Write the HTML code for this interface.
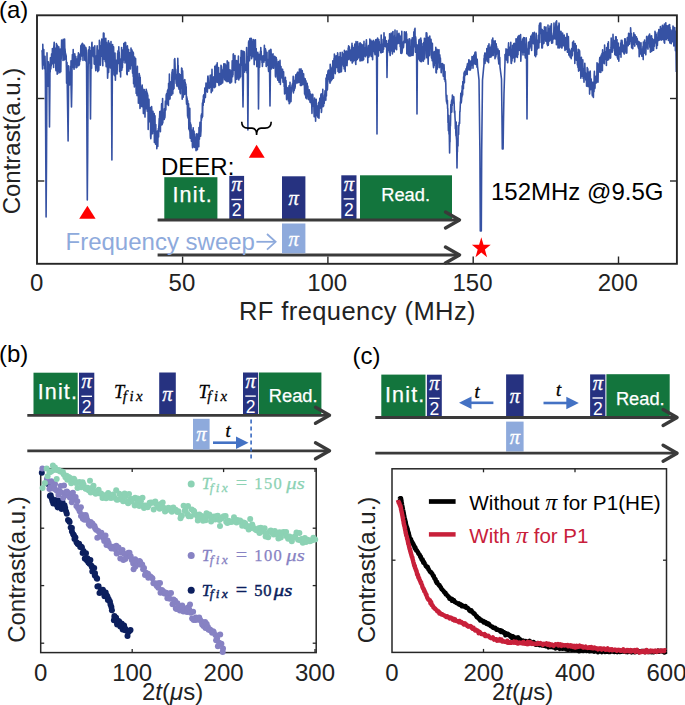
<!DOCTYPE html>
<html><head><meta charset="utf-8"><style>
html,body{margin:0;padding:0;background:#fff;overflow:hidden;width:685px;height:705px;}
svg{display:block;}
</style></head><body>
<svg width="685" height="705" viewBox="0 0 685 705">
<text x="-1" y="17.5" font-family='"Liberation Sans", sans-serif' font-size="24" fill="#000" text-anchor="start" >(a)</text>
<path d="M42.00,50.1 L42.20,52.4 L42.40,64.1 L42.60,69.0 L42.80,44.4 L43.00,56.9 L43.20,54.9 L43.40,53.8 L43.60,52.8 L43.80,49.6 L44.00,65.0 L44.20,57.4 L44.40,58.0 L44.60,68.7 L44.80,66.1 L45.00,56.3 L45.20,63.1 L45.40,80.0 L45.80,160.0 L46.10,217.0 L46.50,160.0 L46.90,85.0 L47.00,52.9 L47.20,73.2 L47.40,82.2 L47.60,64.9 L47.80,64.7 L48.00,86.3 L48.20,67.3 L48.40,61.9 L48.60,63.7 L48.80,72.5 L49.00,81.8 L49.10,85.0 L49.50,127.0 L49.90,85.0 L50.00,64.7 L50.20,72.3 L50.40,57.7 L50.60,66.2 L50.80,69.0 L51.00,65.5 L51.20,66.1 L51.40,58.2 L51.60,53.8 L51.80,55.6 L52.00,63.9 L52.20,61.1 L52.40,48.6 L52.60,62.5 L52.80,50.2 L53.00,63.0 L53.20,56.0 L53.40,50.6 L53.60,67.4 L53.80,47.0 L54.00,45.1 L54.20,42.2 L54.40,57.2 L54.60,53.1 L54.80,62.9 L55.00,52.5 L55.20,48.3 L55.40,53.5 L55.60,50.4 L55.80,68.8 L56.00,70.7 L56.20,63.1 L56.40,43.5 L56.60,55.3 L56.80,65.9 L57.00,53.5 L57.20,74.2 L57.40,45.3 L57.60,66.1 L57.80,53.2 L58.00,73.3 L58.20,61.5 L58.40,71.3 L58.60,54.4 L58.80,46.7 L59.00,51.1 L59.20,54.1 L59.40,49.1 L59.60,70.3 L59.80,72.8 L60.00,60.2 L60.20,49.1 L60.40,59.0 L60.60,52.4 L60.80,71.8 L61.00,59.8 L61.20,59.2 L61.40,51.9 L61.60,40.1 L61.80,47.3 L62.00,43.3 L62.20,53.4 L62.40,50.3 L62.60,42.9 L62.80,43.6 L63.00,60.4 L63.20,39.4 L63.40,40.4 L63.60,50.9 L63.80,42.6 L64.00,45.5 L64.20,50.3 L64.40,59.9 L64.60,39.0 L64.80,48.6 L65.00,48.8 L65.20,51.7 L65.40,53.4 L65.60,55.2 L65.80,54.0 L66.00,59.4 L66.20,55.8 L66.40,67.2 L66.60,83.2 L66.80,67.7 L67.00,62.4 L67.20,71.8 L67.30,88.0 L67.80,120.0 L68.10,141.0 L68.50,95.0 L68.60,65.9 L68.80,79.6 L69.00,72.1 L69.20,76.4 L69.40,81.0 L69.60,84.9 L69.80,73.8 L70.00,74.5 L70.20,79.4 L70.40,71.9 L70.60,66.4 L70.80,84.0 L71.00,60.9 L71.10,88.0 L71.50,107.0 L71.90,85.0 L72.00,69.3 L72.20,61.7 L72.40,54.6 L72.60,60.7 L72.80,67.2 L73.00,59.1 L73.20,49.5 L73.40,63.6 L73.60,61.0 L73.80,64.6 L74.00,69.3 L74.20,67.7 L74.40,62.8 L74.60,62.4 L74.80,53.8 L75.00,60.5 L75.20,62.6 L75.40,59.3 L75.60,61.5 L75.80,56.5 L76.00,67.6 L76.20,67.8 L76.40,58.8 L76.60,62.8 L76.80,60.5 L77.00,67.2 L77.20,63.2 L77.40,62.3 L77.60,60.1 L77.80,61.3 L78.00,55.8 L78.20,63.7 L78.40,52.8 L78.60,65.7 L78.80,62.4 L79.00,65.4 L79.20,60.4 L79.40,64.4 L79.60,54.2 L79.80,61.6 L80.00,55.8 L80.20,57.8 L80.40,55.0 L80.60,59.7 L80.80,45.8 L81.00,55.2 L81.20,45.2 L81.40,56.0 L81.60,44.6 L81.80,44.3 L82.00,44.0 L82.20,55.9 L82.40,43.4 L82.60,48.5 L82.80,43.9 L83.00,60.4 L83.20,49.2 L83.40,49.5 L83.60,45.1 L83.80,45.2 L84.00,50.1 L84.20,46.5 L84.40,45.3 L84.60,50.5 L84.80,60.2 L85.00,53.7 L85.20,53.0 L85.40,48.3 L85.60,47.4 L85.80,61.1 L86.00,47.8 L86.20,50.0 L86.40,52.7 L86.60,70.0 L87.00,150.0 L87.30,200.0 L87.70,150.0 L88.10,72.0 L88.20,63.5 L88.40,50.0 L88.60,58.8 L88.80,60.0 L89.00,63.0 L89.20,51.5 L89.40,46.9 L89.60,61.0 L89.80,50.6 L90.00,61.0 L90.10,72.0 L90.50,119.0 L90.90,72.0 L91.00,66.3 L91.20,58.6 L91.40,47.3 L91.60,68.2 L91.80,43.4 L92.00,42.2 L92.20,55.0 L92.40,53.9 L92.60,54.9 L92.80,51.6 L93.00,50.2 L93.20,49.3 L93.40,56.7 L93.60,47.4 L93.80,51.4 L94.00,51.5 L94.20,64.1 L94.40,58.2 L94.60,54.9 L94.80,45.8 L95.00,60.3 L95.20,64.1 L95.40,59.8 L95.60,68.0 L95.80,70.6 L96.00,58.1 L96.20,55.8 L96.40,67.8 L96.60,64.9 L96.80,61.2 L97.00,49.1 L97.20,45.9 L97.40,64.7 L97.60,70.7 L97.80,71.6 L98.00,50.0 L98.20,61.3 L98.40,57.2 L98.60,70.5 L98.80,69.9 L99.00,56.7 L99.20,56.7 L99.40,40.2 L99.60,50.1 L99.80,41.7 L100.00,62.5 L100.20,58.2 L100.40,65.2 L100.60,57.8 L100.80,45.9 L101.00,53.9 L101.20,46.5 L101.40,56.1 L101.60,50.6 L101.80,39.1 L102.00,48.2 L102.20,48.9 L102.40,46.4 L102.60,58.2 L102.80,65.8 L103.00,44.7 L103.20,45.9 L103.40,33.1 L103.60,50.9 L103.80,49.6 L104.00,33.3 L104.20,58.4 L104.40,59.3 L104.60,44.5 L104.80,49.6 L105.00,54.2 L105.20,61.6 L105.40,38.6 L105.60,52.7 L105.80,38.3 L106.00,62.4 L106.20,66.7 L106.40,56.0 L106.60,42.2 L106.80,56.7 L107.00,66.0 L107.20,49.5 L107.40,66.9 L107.60,78.3 L107.80,73.8 L108.00,44.0 L108.20,49.7 L108.40,40.7 L108.60,72.4 L108.80,66.0 L109.00,48.0 L109.20,43.0 L109.40,60.6 L109.60,61.8 L109.80,64.7 L110.00,57.4 L110.20,47.2 L110.40,67.9 L110.60,65.2 L110.80,45.2 L111.00,41.6 L111.20,64.2 L111.40,63.3 L111.50,82.0 L111.90,160.0 L112.30,82.0 L112.40,49.1 L112.60,44.6 L112.80,50.4 L113.00,52.7 L113.20,59.4 L113.40,53.7 L113.60,46.9 L113.80,57.4 L114.00,74.6 L114.20,62.5 L114.40,75.6 L114.60,61.7 L114.80,63.4 L115.00,53.1 L115.20,62.1 L115.40,80.3 L115.60,66.6 L115.80,69.6 L116.00,68.6 L116.20,61.5 L116.40,60.4 L116.60,63.3 L116.80,69.7 L117.00,74.0 L117.20,69.0 L117.40,62.7 L117.60,53.3 L117.80,57.0 L118.00,50.9 L118.20,63.5 L118.40,53.9 L118.60,61.6 L118.80,46.8 L119.00,57.2 L119.20,52.1 L119.40,56.5 L119.60,71.6 L119.80,59.4 L120.00,66.2 L120.20,60.8 L120.40,59.4 L120.60,76.9 L120.80,63.9 L121.00,58.7 L121.20,59.6 L121.40,66.2 L121.60,47.6 L121.80,70.2 L122.00,63.3 L122.20,49.7 L122.40,67.8 L122.60,59.9 L122.80,59.7 L123.00,62.6 L123.20,54.3 L123.40,57.9 L123.60,59.9 L123.80,43.5 L124.00,56.5 L124.20,55.0 L124.40,43.0 L124.60,45.8 L124.80,44.0 L125.00,63.0 L125.20,42.2 L125.40,50.3 L125.60,42.5 L125.80,46.5 L126.00,60.7 L126.20,48.0 L126.40,56.6 L126.60,60.0 L126.80,74.1 L127.00,65.3 L127.20,74.7 L127.40,45.9 L127.60,49.3 L127.80,70.9 L128.00,57.9 L128.20,58.0 L128.40,63.7 L128.60,49.5 L128.80,71.2 L129.00,62.2 L129.20,67.4 L129.40,52.9 L129.60,66.0 L129.80,52.9 L130.00,67.2 L130.20,66.1 L130.40,69.0 L130.60,57.2 L130.80,63.6 L131.00,48.0 L131.20,65.5 L131.40,55.8 L131.60,58.8 L131.80,53.6 L132.00,50.0 L132.20,52.9 L132.40,67.2 L132.60,73.1 L132.80,53.7 L133.00,52.0 L133.20,76.6 L133.40,52.9 L133.60,83.8 L133.80,65.9 L134.00,58.3 L134.20,78.0 L134.40,87.0 L134.60,57.0 L134.80,85.3 L135.00,66.2 L135.20,83.3 L135.40,66.6 L135.60,58.5 L135.80,72.8 L136.00,84.1 L136.20,93.4 L136.40,92.5 L136.60,80.3 L136.80,73.0 L137.00,95.6 L137.20,73.8 L137.40,66.4 L137.60,88.0 L137.80,77.2 L138.00,79.1 L138.20,80.9 L138.40,103.2 L138.60,88.4 L138.80,78.1 L139.00,87.5 L139.20,73.6 L139.40,77.4 L139.60,75.3 L139.80,99.3 L140.00,108.4 L140.20,77.3 L140.40,87.4 L140.60,98.4 L140.80,98.2 L141.00,106.7 L141.20,92.7 L141.40,86.9 L141.60,93.6 L141.80,101.5 L142.00,88.0 L142.20,85.0 L142.40,106.6 L142.60,88.1 L142.80,107.1 L143.00,100.8 L143.20,106.3 L143.40,113.6 L143.60,100.5 L143.80,101.2 L144.00,98.8 L144.20,89.6 L144.40,100.9 L144.60,110.3 L144.80,108.7 L145.00,117.1 L145.20,99.9 L145.40,91.6 L145.60,105.1 L145.80,96.5 L146.00,96.5 L146.20,89.3 L146.40,108.7 L146.60,90.8 L146.80,105.2 L147.00,92.2 L147.20,111.3 L147.40,93.6 L147.60,110.8 L147.80,95.1 L148.00,102.4 L148.20,129.4 L148.40,103.1 L148.60,110.1 L148.80,106.0 L149.00,99.4 L149.20,116.0 L149.40,108.6 L149.60,109.0 L149.80,121.9 L150.00,111.1 L150.20,109.9 L150.40,107.6 L150.60,136.2 L150.80,138.6 L151.00,136.1 L151.20,131.3 L151.40,133.7 L151.60,106.5 L151.80,109.7 L152.00,131.1 L152.20,118.7 L152.40,127.2 L152.60,133.7 L152.80,118.8 L153.00,111.4 L153.20,131.1 L153.40,127.8 L153.60,116.1 L153.80,129.4 L154.00,129.5 L154.20,113.6 L154.40,142.5 L154.60,137.3 L154.80,133.7 L155.00,115.7 L155.20,133.2 L155.40,126.6 L155.60,144.3 L155.80,124.6 L156.00,139.7 L156.20,137.7 L156.40,140.4 L156.60,134.0 L156.80,148.7 L157.00,137.6 L157.20,136.9 L157.40,131.1 L157.60,136.2 L157.80,146.4 L158.00,135.9 L158.20,135.0 L158.40,128.6 L158.60,136.9 L158.80,126.8 L159.00,123.6 L159.20,118.5 L159.40,126.7 L159.60,116.8 L159.80,111.6 L160.00,123.1 L160.20,111.4 L160.40,131.8 L160.60,117.7 L160.80,122.1 L161.00,120.1 L161.20,122.2 L161.40,112.0 L161.60,103.9 L161.80,124.9 L162.00,115.7 L162.20,124.5 L162.40,111.8 L162.60,98.6 L162.80,123.0 L163.00,115.2 L163.20,114.0 L163.40,113.3 L163.60,113.0 L163.80,115.1 L164.00,115.5 L164.20,119.5 L164.40,108.8 L164.60,111.1 L164.80,118.0 L165.00,115.7 L165.20,107.6 L165.40,101.1 L165.60,108.5 L165.80,109.9 L166.00,103.9 L166.20,94.7 L166.40,97.3 L166.60,93.5 L166.80,101.2 L167.00,103.9 L167.20,104.0 L167.40,91.9 L167.60,90.3 L167.80,99.1 L168.00,89.4 L168.20,90.2 L168.40,105.4 L168.60,83.3 L168.80,99.9 L169.00,85.8 L169.20,89.8 L169.40,74.1 L169.60,86.5 L169.80,94.1 L170.00,99.0 L170.20,93.2 L170.40,91.2 L170.60,86.6 L170.80,81.9 L171.00,86.3 L171.20,93.9 L171.40,82.3 L171.60,95.2 L171.80,78.1 L172.00,72.1 L172.20,77.6 L172.40,70.0 L172.60,69.7 L172.80,93.7 L173.00,80.8 L173.20,82.9 L173.40,89.3 L173.60,88.5 L173.80,77.9 L174.00,88.6 L174.20,76.3 L174.40,59.5 L174.60,75.9 L174.80,58.5 L175.00,63.3 L175.20,69.9 L175.40,79.1 L175.60,69.3 L175.80,71.3 L176.00,80.7 L176.20,83.4 L176.40,75.9 L176.60,82.4 L176.80,84.8 L177.00,86.2 L177.20,74.3 L177.40,85.7 L177.60,82.7 L177.80,58.4 L178.00,70.6 L178.20,65.5 L178.40,80.8 L178.60,88.0 L178.80,79.4 L179.00,89.3 L179.20,73.7 L179.40,82.6 L179.60,81.5 L179.80,81.9 L180.00,92.5 L180.20,81.4 L180.40,93.8 L180.60,74.9 L180.80,81.2 L181.00,74.9 L181.20,88.1 L181.40,84.6 L181.60,68.1 L181.80,84.3 L182.00,68.6 L182.20,99.2 L182.40,77.4 L182.60,70.8 L182.80,75.5 L183.00,81.7 L183.20,97.2 L183.40,94.4 L183.60,81.3 L183.80,88.8 L184.00,80.5 L184.20,81.5 L184.40,94.4 L184.60,79.9 L184.80,79.6 L185.00,91.8 L185.20,82.4 L185.40,86.9 L185.60,93.9 L185.80,84.1 L186.00,92.2 L186.20,86.8 L186.40,101.2 L186.60,104.1 L186.80,96.8 L187.00,100.2 L187.20,98.8 L187.40,107.5 L187.60,116.3 L187.80,100.7 L188.00,117.9 L188.20,104.4 L188.40,108.8 L188.60,103.8 L188.80,129.1 L189.00,121.3 L189.20,126.1 L189.40,118.6 L189.60,131.1 L189.80,108.3 L190.00,133.3 L190.20,138.2 L190.40,122.7 L190.60,127.8 L190.80,134.1 L191.00,124.8 L191.20,133.5 L191.40,141.3 L191.60,137.2 L191.80,131.7 L192.00,137.8 L192.20,130.2 L192.40,145.9 L192.60,147.7 L192.80,142.2 L193.00,137.4 L193.20,127.8 L193.40,145.6 L193.60,146.3 L193.80,145.1 L194.00,131.0 L194.20,134.9 L194.40,147.5 L194.60,134.1 L194.80,139.4 L195.00,142.0 L195.20,137.0 L195.40,141.8 L195.60,141.7 L195.80,139.7 L196.00,150.6 L196.20,145.6 L196.40,139.8 L196.60,133.9 L196.80,134.3 L197.00,148.0 L197.20,134.3 L197.40,149.7 L197.60,140.5 L197.80,140.1 L198.00,142.8 L198.20,141.2 L198.40,133.3 L198.60,134.6 L198.80,146.7 L199.00,127.6 L199.20,131.9 L199.40,139.3 L199.60,131.1 L199.80,126.9 L200.00,122.3 L200.20,132.2 L200.40,134.3 L200.60,136.1 L200.80,133.3 L201.00,130.8 L201.20,115.4 L201.40,120.5 L201.60,113.7 L201.80,116.0 L202.00,117.8 L202.20,117.5 L202.40,103.1 L202.60,116.4 L202.80,103.8 L203.00,99.7 L203.20,105.4 L203.40,95.7 L203.60,102.1 L203.80,94.9 L204.00,98.5 L204.20,102.3 L204.40,96.8 L204.60,98.3 L204.80,88.0 L205.00,96.3 L205.20,93.6 L205.40,97.4 L205.60,91.1 L205.80,88.2 L206.00,83.0 L206.20,91.3 L206.40,83.7 L206.60,88.0 L206.80,87.9 L207.00,90.5 L207.20,90.0 L207.40,92.1 L207.60,82.5 L207.80,76.8 L208.00,76.0 L208.20,78.2 L208.40,85.4 L208.60,85.8 L208.80,84.9 L209.00,87.7 L209.20,88.5 L209.40,85.8 L209.60,86.1 L209.80,87.1 L210.00,80.2 L210.20,75.4 L210.40,87.2 L210.60,85.8 L210.80,81.8 L211.00,80.3 L211.20,92.7 L211.40,74.7 L211.60,78.6 L211.80,81.1 L212.00,69.4 L212.20,80.6 L212.40,90.9 L212.60,86.7 L212.80,82.8 L213.00,83.4 L213.20,80.7 L213.40,87.0 L213.60,78.4 L213.80,76.8 L214.00,80.0 L214.20,87.6 L214.40,83.1 L214.60,85.8 L214.80,66.4 L215.00,87.0 L215.20,86.9 L215.40,86.8 L215.60,68.2 L215.80,71.7 L216.00,77.6 L216.20,65.1 L216.40,79.6 L216.60,71.1 L216.80,79.9 L217.00,82.3 L217.20,62.9 L217.40,74.5 L217.60,68.6 L217.80,69.3 L218.00,72.4 L218.20,74.9 L218.40,83.0 L218.60,67.6 L218.80,84.1 L219.00,85.4 L219.20,80.8 L219.40,81.9 L219.60,78.7 L219.80,75.9 L220.00,83.1 L220.20,73.2 L220.40,77.5 L220.60,84.5 L220.80,82.1 L221.00,65.2 L221.20,84.0 L221.40,66.0 L221.60,67.5 L221.80,70.8 L222.00,69.4 L222.20,78.3 L222.40,72.0 L222.60,82.9 L222.80,81.0 L223.00,76.0 L223.20,70.1 L223.40,74.8 L223.60,76.2 L223.80,63.9 L224.00,71.3 L224.20,74.6 L224.40,72.9 L224.60,79.6 L224.80,76.4 L225.00,63.9 L225.20,70.8 L225.40,70.9 L225.60,80.7 L225.80,65.1 L226.00,78.7 L226.20,71.4 L226.40,77.2 L226.60,68.7 L226.80,65.1 L227.00,81.8 L227.20,60.7 L227.40,78.5 L227.60,73.0 L227.80,75.8 L228.00,73.3 L228.20,72.9 L228.40,81.4 L228.60,62.2 L228.80,79.3 L229.00,71.7 L229.20,72.9 L229.40,73.6 L229.60,72.0 L229.80,82.9 L230.00,69.9 L230.20,75.2 L230.40,70.8 L230.60,83.0 L230.80,73.4 L231.00,79.4 L231.20,72.8 L231.40,80.1 L231.60,82.0 L231.80,70.4 L232.00,72.4 L232.20,60.9 L232.40,73.3 L232.60,76.7 L232.80,63.9 L233.00,75.0 L233.20,54.2 L233.40,53.9 L233.60,67.3 L233.80,60.6 L234.00,64.6 L234.20,63.7 L234.40,64.0 L234.60,70.4 L234.80,60.2 L235.00,55.6 L235.20,76.0 L235.40,82.7 L235.60,60.6 L235.80,65.2 L236.00,79.5 L236.20,70.7 L236.40,60.5 L236.60,67.4 L236.80,77.0 L237.00,79.3 L237.20,61.0 L237.40,73.5 L237.60,69.6 L237.80,75.9 L238.00,77.6 L238.20,65.3 L238.40,56.0 L238.60,71.6 L238.80,80.0 L239.00,74.5 L239.20,70.5 L239.40,76.9 L239.60,67.0 L239.80,77.9 L240.00,64.0 L240.20,66.8 L240.40,67.7 L240.60,76.7 L240.80,57.3 L241.00,60.2 L241.20,50.5 L241.40,65.3 L241.60,56.6 L241.80,61.3 L242.00,50.8 L242.20,52.6 L242.40,62.4 L242.60,80.0 L243.00,107.0 L243.40,80.0 L243.40,51.4 L243.60,65.4 L243.80,58.7 L244.00,65.5 L244.20,51.7 L244.40,53.3 L244.60,72.1 L244.80,67.6 L245.00,70.9 L245.20,68.3 L245.40,64.9 L245.60,67.3 L245.80,70.1 L246.00,64.0 L246.20,66.5 L246.40,65.0 L246.60,47.5 L246.80,60.5 L247.00,72.9 L247.20,58.0 L247.40,56.6 L247.50,80.0 L247.90,130.0 L248.30,80.0 L248.40,51.3 L248.60,41.9 L248.80,51.3 L249.00,40.8 L249.20,54.4 L249.40,60.8 L249.60,59.6 L249.80,38.6 L250.00,54.7 L250.20,55.0 L250.40,52.6 L250.60,55.5 L250.80,38.2 L251.00,38.2 L251.20,38.2 L251.40,41.4 L251.60,58.8 L251.80,39.2 L252.00,42.2 L252.20,45.5 L252.40,53.1 L252.60,47.2 L252.80,56.8 L253.00,44.1 L253.20,42.4 L253.40,46.9 L253.60,39.5 L253.80,43.8 L254.00,53.3 L254.20,64.6 L254.40,45.1 L254.60,48.5 L254.80,60.3 L255.00,42.8 L255.20,40.6 L255.40,39.7 L255.60,51.2 L255.80,52.5 L256.00,48.7 L256.20,48.5 L256.40,59.9 L256.60,58.4 L256.80,66.6 L257.00,54.4 L257.20,57.0 L257.40,59.8 L257.60,54.3 L257.80,52.2 L258.00,56.5 L258.20,68.0 L258.50,109.0 L258.90,68.0 L259.00,54.2 L259.20,58.8 L259.40,66.3 L259.60,67.3 L259.80,64.0 L260.00,56.4 L260.20,59.3 L260.40,51.4 L260.60,58.7 L260.80,47.5 L261.00,53.7 L261.20,51.2 L261.40,60.1 L261.60,58.0 L261.80,55.8 L262.00,62.8 L262.20,57.6 L262.40,66.5 L262.60,62.7 L262.80,58.0 L263.00,56.0 L263.20,60.1 L263.40,55.6 L263.60,59.4 L263.80,61.3 L264.00,62.1 L264.20,51.4 L264.40,45.4 L264.60,51.8 L264.80,51.5 L265.00,60.1 L265.20,51.3 L265.40,48.7 L265.60,56.3 L265.80,50.0 L266.00,59.8 L266.20,66.5 L266.40,65.8 L266.60,62.5 L266.80,60.1 L267.00,52.3 L267.20,65.2 L267.40,62.9 L267.60,65.2 L267.80,59.3 L268.00,62.1 L268.20,59.6 L268.40,68.9 L268.60,71.4 L268.80,65.9 L269.00,50.7 L269.20,55.5 L269.40,50.2 L269.60,72.0 L270.00,106.0 L270.40,72.0 L270.40,58.9 L270.60,52.0 L270.80,49.2 L271.00,49.8 L271.20,53.8 L271.40,69.0 L271.60,66.7 L271.80,66.9 L272.00,67.9 L272.20,58.7 L272.40,58.7 L272.60,54.6 L272.80,59.0 L273.00,53.9 L273.20,59.2 L273.40,66.5 L273.60,68.3 L273.80,63.0 L274.00,63.3 L274.20,62.0 L274.40,64.6 L274.60,56.4 L274.80,63.6 L275.00,62.5 L275.20,56.8 L275.40,75.4 L275.60,77.0 L275.80,58.8 L276.00,67.0 L276.20,57.5 L276.40,62.5 L276.60,59.3 L276.80,64.5 L277.00,69.7 L277.20,72.6 L277.40,78.5 L277.60,77.2 L277.80,80.2 L278.00,76.9 L278.20,70.5 L278.40,61.6 L278.60,68.1 L278.80,66.7 L279.00,82.2 L279.20,77.6 L279.40,65.0 L279.60,75.8 L279.80,73.8 L280.00,60.4 L280.20,69.7 L280.40,84.5 L280.60,74.6 L280.80,69.7 L281.00,66.5 L281.20,77.6 L281.40,69.6 L281.60,75.1 L281.80,69.0 L282.00,77.2 L282.20,74.0 L282.40,78.4 L282.60,69.4 L282.80,77.2 L283.00,82.2 L283.20,81.5 L283.40,72.8 L283.60,71.9 L283.80,81.6 L284.00,79.7 L284.20,86.8 L284.40,86.4 L284.60,93.9 L284.80,86.2 L285.00,89.9 L285.20,83.5 L285.40,77.3 L285.60,93.2 L285.80,89.8 L286.00,80.5 L286.20,86.6 L286.40,92.4 L286.60,99.6 L286.80,98.8 L287.00,97.5 L287.20,87.5 L287.40,89.0 L287.60,91.8 L287.80,88.6 L288.00,92.1 L288.20,88.1 L288.40,100.9 L288.60,99.9 L288.80,89.2 L289.00,85.9 L289.20,103.7 L289.40,86.2 L289.60,87.8 L289.80,103.0 L290.00,82.3 L290.20,90.6 L290.40,87.4 L290.60,92.5 L290.80,91.2 L291.00,101.6 L291.20,92.5 L291.40,87.6 L291.60,91.5 L291.80,88.2 L292.00,85.2 L292.20,86.7 L292.40,83.7 L292.60,84.9 L292.80,87.5 L293.00,82.1 L293.20,76.4 L293.40,92.9 L293.60,88.7 L293.80,84.9 L294.00,83.6 L294.20,90.6 L294.40,80.5 L294.60,83.3 L294.80,88.7 L295.00,87.5 L295.20,86.7 L295.40,76.8 L295.60,81.4 L295.80,74.8 L296.00,83.6 L296.20,76.9 L296.40,79.1 L296.60,78.8 L296.80,77.5 L297.00,73.2 L297.20,82.7 L297.40,74.2 L297.60,72.4 L297.80,83.0 L298.00,72.3 L298.20,76.9 L298.40,82.3 L298.60,78.6 L298.80,75.1 L299.00,77.4 L299.20,82.2 L299.40,69.1 L299.60,79.6 L299.80,72.9 L300.00,70.1 L300.20,77.0 L300.40,85.4 L300.60,80.3 L300.80,83.0 L301.00,68.8 L301.20,75.9 L301.40,85.4 L301.60,82.0 L301.80,72.1 L302.00,79.2 L302.20,70.5 L302.40,72.6 L302.60,83.3 L302.80,84.7 L303.00,76.5 L303.20,77.9 L303.40,82.3 L303.60,73.7 L303.80,81.9 L304.00,81.6 L304.20,78.1 L304.40,85.7 L304.60,94.1 L304.80,85.6 L305.00,84.4 L305.20,78.7 L305.40,95.7 L305.60,88.5 L305.80,98.0 L306.00,80.7 L306.20,93.4 L306.40,83.2 L306.60,85.3 L306.80,88.6 L307.00,98.9 L307.20,83.4 L307.40,94.6 L307.60,93.9 L307.80,86.0 L308.00,90.5 L308.20,92.5 L308.40,96.7 L308.60,91.3 L308.80,99.7 L309.00,90.6 L309.20,89.7 L309.40,90.6 L309.60,99.3 L309.80,91.6 L310.00,102.2 L310.20,96.8 L310.40,93.7 L310.60,101.8 L310.80,94.0 L311.00,94.7 L311.20,96.6 L311.40,104.0 L311.60,96.4 L311.80,107.6 L312.00,113.4 L312.20,99.2 L312.40,106.6 L312.60,94.3 L312.80,94.6 L313.00,105.3 L313.20,102.9 L313.40,104.4 L313.60,100.8 L313.80,102.3 L314.00,112.0 L314.20,116.7 L314.40,105.3 L314.60,98.1 L314.80,116.8 L315.00,112.6 L315.20,113.9 L315.40,111.8 L315.60,121.3 L315.80,109.3 L316.00,116.2 L316.20,99.4 L316.40,110.4 L316.60,103.3 L316.80,114.3 L317.00,115.7 L317.20,110.7 L317.40,107.7 L317.60,106.1 L317.80,117.2 L318.00,111.0 L318.20,116.4 L318.40,117.6 L318.60,111.8 L318.80,102.3 L319.00,118.2 L319.20,108.5 L319.40,109.1 L319.60,102.6 L319.80,98.3 L320.00,102.4 L320.20,102.4 L320.40,101.7 L320.60,108.1 L320.80,94.8 L321.00,96.8 L321.20,93.7 L321.40,112.4 L321.60,110.6 L321.80,101.1 L322.00,96.6 L322.20,105.8 L322.40,95.8 L322.60,100.1 L322.80,89.3 L323.00,106.7 L323.20,101.2 L323.40,101.6 L323.60,106.1 L323.80,97.5 L324.00,98.3 L324.20,103.4 L324.40,100.0 L324.60,95.1 L324.80,95.8 L325.00,90.9 L325.20,98.7 L325.40,99.2 L325.60,91.2 L325.80,100.3 L326.00,78.0 L326.20,85.3 L326.40,96.1 L326.60,80.5 L326.80,74.8 L327.00,90.4 L327.20,84.8 L327.40,89.7 L327.60,85.0 L327.80,73.5 L328.00,70.8 L328.20,79.4 L328.40,74.3 L328.60,70.0 L328.80,76.8 L329.00,72.9 L329.20,77.8 L329.40,74.5 L329.60,82.1 L329.80,74.3 L330.00,83.3 L330.20,64.2 L330.40,70.3 L330.60,81.6 L330.80,76.7 L331.00,68.1 L331.20,78.3 L331.40,78.0 L331.60,80.1 L331.80,67.7 L332.00,72.4 L332.20,79.2 L332.40,66.1 L332.60,70.0 L332.80,60.8 L333.00,66.9 L333.20,73.9 L333.40,78.2 L333.60,69.6 L333.80,65.1 L334.00,58.4 L334.20,68.6 L334.40,54.1 L334.60,56.4 L334.80,64.4 L335.00,56.1 L335.20,73.6 L335.40,72.0 L335.60,63.5 L335.80,61.3 L336.00,56.6 L336.20,55.7 L336.40,64.0 L336.60,67.4 L336.80,64.8 L337.00,64.3 L337.20,59.2 L337.40,65.2 L337.60,52.9 L337.80,53.8 L338.00,71.4 L338.20,69.8 L338.40,58.8 L338.60,60.5 L338.80,70.7 L339.00,72.6 L339.20,56.7 L339.40,63.0 L339.60,68.0 L339.80,72.1 L340.00,62.5 L340.20,52.5 L340.40,67.6 L340.60,72.0 L340.80,71.6 L341.00,67.1 L341.20,64.0 L341.40,71.6 L341.60,68.1 L341.80,57.3 L342.00,65.2 L342.20,52.3 L342.40,58.3 L342.60,54.9 L342.80,53.9 L343.00,57.3 L343.20,54.8 L343.40,63.9 L343.60,66.4 L343.80,58.1 L344.00,53.5 L344.20,68.9 L344.40,50.4 L344.60,50.8 L344.80,54.1 L345.00,67.5 L345.20,71.5 L345.40,51.6 L345.60,53.2 L345.80,58.5 L346.00,65.3 L346.20,56.3 L346.40,56.2 L346.60,51.1 L346.80,52.7 L347.00,65.8 L347.20,62.1 L347.40,52.0 L347.60,52.1 L347.80,54.7 L348.00,59.4 L348.20,48.0 L348.40,53.8 L348.60,45.8 L348.80,46.8 L349.00,59.6 L349.20,57.8 L349.40,46.8 L349.60,49.2 L349.80,57.8 L350.00,51.8 L350.20,49.7 L350.40,56.3 L350.60,54.7 L350.80,60.6 L351.00,60.5 L351.20,52.4 L351.40,55.7 L351.60,55.9 L351.80,48.1 L352.00,43.2 L352.20,63.1 L352.40,45.5 L352.60,62.2 L352.80,56.9 L353.00,61.7 L353.20,58.2 L353.40,57.8 L353.60,60.3 L353.80,47.5 L354.00,49.2 L354.20,48.5 L354.40,60.4 L354.60,58.5 L354.80,44.0 L355.00,48.1 L355.20,48.3 L355.40,54.4 L355.60,63.2 L355.80,64.5 L356.00,41.5 L356.20,60.7 L356.40,56.7 L356.60,50.4 L356.80,53.5 L357.00,50.5 L357.20,54.2 L357.40,59.5 L357.60,41.8 L357.80,58.4 L358.00,48.2 L358.20,57.9 L358.40,46.3 L358.60,55.7 L358.80,50.6 L359.00,53.1 L359.20,57.1 L359.40,43.5 L359.60,51.6 L359.80,53.8 L360.00,60.9 L360.20,42.9 L360.40,53.6 L360.60,56.6 L360.80,44.0 L361.00,49.1 L361.20,60.8 L361.40,44.1 L361.60,59.7 L361.80,57.0 L362.00,56.1 L362.20,52.2 L362.40,50.4 L362.60,50.2 L362.80,60.6 L363.00,44.7 L363.20,53.7 L363.40,50.2 L363.60,59.6 L363.80,47.6 L364.00,41.4 L364.20,56.3 L364.40,53.8 L364.60,54.6 L364.80,53.1 L365.00,47.8 L365.20,50.5 L365.40,53.7 L365.60,56.7 L365.80,49.9 L366.00,43.2 L366.20,43.4 L366.40,39.9 L366.60,45.0 L366.80,52.9 L367.00,48.1 L367.20,55.6 L367.40,49.3 L367.60,49.0 L367.80,62.8 L368.00,50.8 L368.20,51.7 L368.40,45.7 L368.60,47.5 L368.80,57.1 L369.00,56.7 L369.20,51.0 L369.40,44.8 L369.60,55.2 L369.80,39.1 L370.00,50.2 L370.20,47.7 L370.40,43.6 L370.60,50.9 L370.80,42.7 L371.00,40.3 L371.20,56.4 L371.40,49.6 L371.60,53.1 L371.80,53.9 L372.00,50.9 L372.20,50.1 L372.40,41.5 L372.60,59.7 L372.80,46.8 L373.00,50.3 L373.20,41.1 L373.40,40.4 L373.60,41.3 L373.80,48.4 L374.00,51.3 L374.20,44.8 L374.40,42.8 L374.60,53.3 L374.80,41.8 L375.00,54.7 L375.20,42.4 L375.40,46.7 L375.60,39.9 L375.80,50.9 L376.00,41.4 L376.20,39.6 L376.40,51.1 L376.60,60.0 L377.00,134.0 L377.40,60.0 L377.40,45.2 L377.60,38.0 L377.80,41.1 L378.00,46.3 L378.20,40.0 L378.40,56.1 L378.60,41.0 L378.80,39.5 L379.00,49.7 L379.20,41.5 L379.40,45.6 L379.60,44.4 L379.80,48.1 L380.00,50.5 L380.20,50.6 L380.40,46.3 L380.60,50.7 L380.80,52.6 L381.00,52.9 L381.20,35.0 L381.40,43.5 L381.60,43.7 L381.80,46.7 L382.00,48.4 L382.20,52.3 L382.40,48.4 L382.60,44.1 L382.80,44.4 L383.00,52.1 L383.20,39.4 L383.40,41.9 L383.60,49.2 L383.80,41.0 L384.00,32.8 L384.20,41.8 L384.40,37.3 L384.60,44.5 L384.80,46.1 L385.00,41.8 L385.20,37.0 L385.40,46.8 L385.60,43.8 L385.80,41.1 L386.00,42.6 L386.20,41.7 L386.40,40.8 L386.60,40.9 L386.70,52.0 L387.00,77.5 L387.40,52.0 L387.40,52.2 L387.60,43.9 L387.80,45.6 L388.00,45.1 L388.20,46.4 L388.40,44.0 L388.60,50.5 L388.80,40.0 L389.00,50.2 L389.20,42.9 L389.40,52.6 L389.60,33.8 L389.80,39.6 L390.00,54.6 L390.20,55.5 L390.40,42.1 L390.60,48.8 L390.80,39.4 L391.00,46.3 L391.20,33.0 L391.40,44.1 L391.60,42.8 L391.80,49.5 L392.00,51.7 L392.20,33.2 L392.40,53.9 L392.60,40.7 L392.80,31.8 L393.00,31.6 L393.20,51.5 L393.40,42.4 L393.60,39.2 L393.80,45.6 L394.00,36.6 L394.20,51.9 L394.40,41.3 L394.60,45.4 L394.80,40.9 L395.00,30.0 L395.20,45.9 L395.40,38.9 L395.60,39.5 L395.80,49.0 L396.00,38.0 L396.20,45.2 L396.40,37.3 L396.60,49.8 L396.80,38.1 L397.00,30.9 L397.20,42.0 L397.40,40.2 L397.60,34.3 L397.80,43.6 L398.00,38.7 L398.20,34.0 L398.40,38.7 L398.60,34.6 L398.80,41.1 L399.00,33.2 L399.20,40.4 L399.40,43.4 L399.60,35.0 L399.80,39.9 L400.00,38.0 L400.20,46.7 L400.40,39.8 L400.60,46.9 L400.80,53.3 L401.00,49.5 L401.20,36.1 L401.40,47.2 L401.60,53.4 L401.80,31.4 L402.00,52.8 L402.20,51.0 L402.40,48.6 L402.60,44.5 L402.80,42.3 L403.00,44.6 L403.20,46.2 L403.40,47.7 L403.60,45.9 L403.80,41.0 L404.00,41.4 L404.20,43.1 L404.40,31.8 L404.60,35.3 L404.80,36.5 L405.00,39.4 L405.20,37.6 L405.40,37.1 L405.60,32.7 L405.80,42.7 L406.00,39.4 L406.20,31.8 L406.40,38.9 L406.60,33.8 L406.80,53.7 L407.00,39.1 L407.20,39.5 L407.40,43.2 L407.60,52.0 L407.80,43.8 L408.00,54.7 L408.20,47.3 L408.40,53.2 L408.60,55.7 L408.80,42.7 L409.00,39.1 L409.20,55.2 L409.40,55.9 L409.60,38.7 L409.80,53.8 L410.00,52.7 L410.20,46.9 L410.40,55.9 L410.60,50.4 L410.80,47.3 L411.00,51.9 L411.20,55.6 L411.40,39.9 L411.60,50.3 L411.80,55.3 L412.00,44.4 L412.20,37.9 L412.40,43.8 L412.60,38.8 L412.80,46.9 L413.00,55.4 L413.20,53.7 L413.40,37.7 L413.60,43.6 L413.80,31.9 L414.00,39.6 L414.20,43.0 L414.40,46.7 L414.60,29.6 L414.80,29.4 L415.00,28.4 L415.20,46.2 L415.40,52.2 L415.60,36.8 L415.80,38.3 L416.00,42.1 L416.20,43.7 L416.40,44.6 L416.60,56.0 L417.00,114.0 L417.40,56.0 L417.40,50.9 L417.60,45.3 L417.80,58.9 L418.00,59.2 L418.20,44.5 L418.40,48.4 L418.60,49.2 L418.80,41.4 L419.00,39.7 L419.20,42.6 L419.40,53.2 L419.60,60.5 L419.80,56.2 L420.00,45.5 L420.20,38.8 L420.40,61.4 L420.60,46.8 L420.80,38.1 L421.00,55.2 L421.20,40.1 L421.40,56.0 L421.60,61.7 L421.80,46.8 L422.00,57.3 L422.20,46.5 L422.40,60.1 L422.60,56.3 L422.80,57.1 L423.00,43.5 L423.20,57.1 L423.40,61.3 L423.60,58.3 L423.80,42.3 L424.00,53.7 L424.20,53.9 L424.40,38.2 L424.60,58.9 L424.80,48.5 L425.00,43.3 L425.20,38.8 L425.40,45.3 L425.60,48.7 L425.80,43.0 L426.00,45.5 L426.20,32.7 L426.40,54.0 L426.60,57.8 L426.80,33.1 L427.00,36.0 L427.20,37.5 L427.40,49.5 L427.60,37.9 L427.80,48.1 L428.00,58.9 L428.20,64.2 L428.40,51.1 L428.60,40.2 L428.80,37.2 L429.00,53.2 L429.20,40.8 L429.40,55.6 L429.60,55.0 L429.80,36.0 L430.00,41.7 L430.20,44.3 L430.40,40.4 L430.60,46.0 L430.80,43.9 L431.00,39.4 L431.20,42.5 L431.40,56.8 L431.60,58.1 L431.80,45.2 L432.00,51.1 L432.20,60.8 L432.40,43.4 L432.60,57.4 L432.80,59.4 L433.00,56.7 L433.20,63.7 L433.40,66.1 L433.60,67.6 L433.80,52.1 L434.00,54.0 L434.20,65.7 L434.40,51.6 L434.60,62.5 L434.80,62.8 L435.00,57.9 L435.20,61.7 L435.40,54.5 L435.60,58.1 L435.80,47.2 L436.00,72.6 L436.20,72.7 L436.40,72.8 L436.60,64.8 L436.80,68.8 L437.00,49.2 L437.20,69.2 L437.40,67.3 L437.60,54.0 L437.80,62.3 L438.00,57.9 L438.20,50.0 L438.40,57.2 L438.60,62.8 L438.80,52.3 L439.00,49.8 L439.20,67.6 L439.40,66.3 L439.60,67.0 L439.80,54.7 L440.00,57.9 L440.20,65.8 L440.40,58.1 L440.60,64.0 L440.80,63.4 L441.00,67.0 L441.20,72.7 L441.40,69.0 L441.60,63.8 L441.80,67.8 L442.00,68.5 L442.20,67.3 L442.40,68.0 L442.60,63.5 L442.80,67.0 L443.00,67.6 L443.20,75.4 L443.40,76.3 L443.60,71.5 L443.80,65.8 L444.00,64.9 L444.20,68.4 L444.40,79.5 L444.60,76.2 L444.80,74.0 L445.00,71.5 L445.20,81.8 L445.40,79.4 L445.60,81.1 L445.80,83.9 L446.00,94.0 L446.20,97.1 L446.40,100.7 L446.60,102.1 L446.80,95.2 L447.00,104.0 L447.20,101.1 L447.40,100.3 L447.60,108.4 L447.80,109.4 L448.00,122.7 L448.20,122.2 L448.40,130.7 L448.60,126.0 L448.80,115.5 L449.00,134.2 L449.20,125.1 L449.30,135.0 L449.60,153.0 L449.90,135.0 L450.00,142.3 L450.20,124.3 L450.40,126.3 L450.60,119.4 L450.80,104.6 L451.00,112.1 L451.20,107.7 L451.40,102.4 L451.60,100.6 L451.80,112.1 L452.00,99.3 L452.20,105.4 L452.40,95.1 L452.60,102.1 L452.80,99.6 L453.00,99.1 L453.20,96.5 L453.40,102.9 L453.60,99.0 L453.80,96.8 L454.00,100.8 L454.20,103.9 L454.40,112.2 L454.60,113.1 L454.80,111.1 L455.00,117.2 L455.20,120.1 L455.40,128.8 L455.60,121.6 L455.80,132.2 L456.00,136.0 L456.20,122.0 L456.40,137.8 L456.60,140.0 L457.00,168.0 L457.40,140.0 L457.40,152.0 L457.60,140.0 L457.80,139.8 L458.00,146.0 L458.20,125.5 L458.40,131.4 L458.60,134.4 L458.80,125.1 L459.00,125.6 L459.20,122.4 L459.40,122.5 L459.60,123.6 L459.80,111.6 L460.00,111.6 L460.20,107.1 L460.40,102.1 L460.60,101.0 L460.80,93.2 L461.00,99.7 L461.20,102.9 L461.40,101.7 L461.60,99.2 L461.80,90.7 L462.00,97.1 L462.20,85.9 L462.40,88.5 L462.60,94.9 L462.80,81.5 L463.00,87.7 L463.20,84.5 L463.40,88.7 L463.60,76.9 L463.80,82.5 L464.00,72.8 L464.20,82.6 L464.40,82.8 L464.60,71.2 L464.80,75.4 L465.00,75.8 L465.20,71.2 L465.40,71.8 L465.60,74.9 L465.80,73.0 L466.00,68.7 L466.20,72.5 L466.40,68.5 L466.60,73.4 L466.80,67.6 L467.00,66.0 L467.20,74.4 L467.40,63.8 L467.60,64.2 L467.80,69.0 L468.00,63.3 L468.20,66.4 L468.40,69.8 L468.60,69.1 L468.80,59.7 L469.00,59.7 L469.20,63.0 L469.40,70.0 L469.60,66.9 L469.80,61.1 L470.00,68.6 L470.20,68.3 L470.40,69.9 L470.60,63.5 L470.80,65.6 L471.00,68.4 L471.20,63.2 L471.40,60.6 L471.60,65.3 L471.80,63.8 L472.00,56.6 L472.20,60.0 L472.40,64.5 L472.60,56.8 L472.80,61.8 L473.00,68.2 L473.20,61.0 L473.40,58.5 L473.60,60.0 L473.80,55.4 L474.00,55.0 L474.20,56.2 L474.40,63.7 L474.60,61.0 L474.80,53.8 L475.00,52.3 L475.20,57.0 L475.40,64.4 L475.60,64.1 L475.80,52.1 L476.00,54.3 L476.20,57.8 L476.40,59.2 L476.60,60.4 L476.80,62.7 L477.00,67.1 L477.20,59.2 L477.40,63.6 L477.50,66.0 L479.00,80.0 L479.90,150.0 L480.30,231.0 L481.30,231.0 L481.70,150.0 L482.50,80.0 L484.00,64.0 L484.00,58.5 L484.20,61.6 L484.40,55.4 L484.60,56.2 L484.80,53.0 L485.00,63.4 L485.20,60.5 L485.40,57.3 L485.60,55.3 L485.80,54.2 L486.00,53.1 L486.20,58.2 L486.40,52.8 L486.60,60.1 L486.80,48.6 L487.00,50.9 L487.20,61.4 L487.40,55.1 L487.60,59.0 L487.80,54.5 L488.00,45.8 L488.20,58.9 L488.40,50.6 L488.60,62.7 L488.80,46.2 L489.00,43.9 L489.20,56.8 L489.40,57.0 L489.60,55.4 L489.80,47.4 L490.00,57.2 L490.20,52.3 L490.40,48.9 L490.60,47.1 L490.80,47.6 L491.00,57.1 L491.20,46.9 L491.40,44.8 L491.60,54.3 L491.80,56.0 L492.00,40.0 L492.20,45.7 L492.40,39.3 L492.60,49.3 L492.80,38.0 L493.00,54.0 L493.20,55.5 L493.40,49.2 L493.60,40.8 L493.80,48.6 L494.00,44.7 L494.20,51.0 L494.40,47.3 L494.60,48.5 L494.80,47.1 L495.00,58.7 L495.20,40.8 L495.40,56.3 L495.60,53.1 L495.80,56.9 L496.00,54.3 L496.20,43.8 L496.40,54.8 L496.60,46.4 L496.80,48.1 L497.00,52.0 L497.20,52.1 L497.40,51.2 L497.60,53.3 L497.80,53.2 L498.00,49.0 L498.20,59.2 L498.40,58.9 L498.60,61.3 L498.80,63.9 L499.00,51.9 L499.20,50.8 L499.40,62.6 L499.60,57.3 L499.80,57.5 L500.00,67.0 L501.50,79.0 L502.00,120.0 L502.30,149.0 L503.10,149.0 L503.50,120.0 L504.00,93.0 L505.00,62.0 L505.00,54.6 L505.20,60.0 L505.40,54.7 L505.60,58.5 L505.80,57.1 L506.00,48.9 L506.20,55.7 L506.40,58.8 L506.60,51.9 L506.80,60.3 L507.00,59.0 L507.20,49.5 L507.40,56.0 L507.60,62.8 L507.80,62.1 L508.00,51.4 L508.20,55.3 L508.40,46.3 L508.60,42.9 L508.80,55.2 L509.00,54.0 L509.20,54.7 L509.40,51.0 L509.60,51.8 L509.80,47.3 L510.00,52.9 L510.20,55.4 L510.40,50.5 L510.60,57.0 L510.80,42.4 L511.00,60.2 L511.20,63.5 L511.40,63.4 L511.60,54.6 L511.80,49.4 L512.00,61.1 L512.20,53.9 L512.40,57.5 L512.60,45.3 L512.80,58.1 L513.00,57.6 L513.20,56.6 L513.40,46.5 L513.60,56.4 L513.80,43.6 L514.00,44.1 L514.20,52.6 L514.40,43.4 L514.60,61.9 L514.80,60.0 L515.00,48.4 L515.20,46.3 L515.40,44.4 L515.60,52.9 L515.80,57.0 L516.00,38.8 L516.20,48.9 L516.40,48.1 L516.60,49.4 L516.80,41.5 L517.00,49.0 L517.20,38.9 L517.40,57.4 L517.60,41.6 L517.80,37.1 L518.00,54.8 L518.20,36.2 L518.40,38.7 L518.60,42.0 L518.80,44.6 L519.00,35.5 L519.20,50.5 L519.40,42.0 L519.60,40.5 L519.80,43.7 L520.00,50.1 L520.20,47.0 L520.40,42.2 L520.60,34.6 L520.80,61.2 L521.00,56.1 L521.20,50.8 L521.40,52.2 L521.60,46.2 L521.80,41.3 L522.00,46.6 L522.20,46.6 L522.40,45.0 L522.60,39.1 L522.80,49.5 L523.00,54.9 L523.20,46.9 L523.40,50.8 L523.60,37.6 L523.80,40.5 L524.00,50.5 L524.20,39.2 L524.40,37.7 L524.60,52.8 L524.80,45.9 L525.00,56.0 L525.20,50.6 L525.40,57.9 L525.60,51.9 L525.80,44.0 L526.00,58.2 L526.20,37.8 L526.40,42.4 L526.60,66.0 L527.00,119.0 L527.40,66.0 L527.40,52.4 L527.60,53.3 L527.80,49.2 L528.00,48.7 L528.20,48.8 L528.40,45.2 L528.60,42.4 L528.80,47.0 L529.00,54.3 L529.20,45.0 L529.40,41.5 L529.60,48.5 L529.80,42.8 L530.00,45.7 L530.20,38.8 L530.40,40.2 L530.60,46.6 L530.80,36.2 L531.00,36.0 L531.20,45.3 L531.40,40.9 L531.60,50.4 L531.80,44.8 L532.00,38.5 L532.20,34.4 L532.40,35.3 L532.60,42.6 L532.80,32.9 L533.00,38.5 L533.20,39.2 L533.40,43.8 L533.60,38.1 L533.80,41.6 L534.00,36.7 L534.20,42.1 L534.40,32.2 L534.60,45.1 L534.80,55.4 L535.00,45.4 L535.20,48.5 L535.40,40.0 L535.60,56.8 L535.80,50.8 L536.00,45.3 L536.20,33.4 L536.40,41.5 L536.60,54.8 L536.80,45.8 L537.00,47.1 L537.20,49.1 L537.40,43.5 L537.60,40.1 L537.80,44.8 L538.00,40.0 L538.20,42.9 L538.40,35.3 L538.60,35.1 L538.80,48.1 L539.00,35.2 L539.20,25.2 L539.40,42.3 L539.60,23.7 L539.80,42.4 L540.00,23.0 L540.20,24.0 L540.40,29.0 L540.60,23.0 L540.80,23.0 L541.00,33.5 L541.20,32.1 L541.40,34.0 L541.60,29.1 L541.80,48.0 L542.00,33.1 L542.20,29.5 L542.40,48.0 L542.60,41.5 L542.80,34.6 L543.00,44.3 L543.20,40.5 L543.40,30.7 L543.60,38.6 L543.80,31.7 L544.00,43.3 L544.20,37.0 L544.40,26.7 L544.60,27.6 L544.80,39.6 L545.00,30.6 L545.20,32.6 L545.40,37.5 L545.60,33.8 L545.80,41.3 L546.00,27.1 L546.20,37.8 L546.40,38.3 L546.60,38.7 L546.80,35.5 L547.00,43.2 L547.20,44.3 L547.40,32.3 L547.60,45.6 L547.80,45.3 L548.00,25.1 L548.20,45.2 L548.40,44.4 L548.60,28.3 L548.80,41.6 L549.00,36.4 L549.20,37.2 L549.40,35.0 L549.60,40.9 L549.80,36.0 L550.00,26.1 L550.20,37.2 L550.40,39.9 L550.60,31.2 L550.80,33.8 L551.00,34.5 L551.20,32.9 L551.40,23.7 L551.60,42.3 L551.80,43.3 L552.00,39.7 L552.20,42.7 L552.40,43.0 L552.60,43.0 L552.80,35.8 L553.00,39.8 L553.20,37.3 L553.40,34.3 L553.60,32.8 L553.80,32.4 L554.00,23.1 L554.20,29.1 L554.40,38.7 L554.60,34.9 L554.80,33.8 L555.00,35.5 L555.20,39.0 L555.40,35.5 L555.60,33.3 L555.80,24.2 L556.00,21.8 L556.20,23.0 L556.40,44.8 L556.60,20.7 L556.80,34.8 L557.00,42.2 L557.20,27.1 L557.40,42.1 L557.60,33.5 L557.80,39.5 L558.00,47.9 L558.20,34.6 L558.40,25.9 L558.60,36.2 L558.80,29.0 L559.00,23.1 L559.20,24.4 L559.40,48.0 L559.60,33.1 L559.80,47.4 L560.00,45.3 L560.20,37.6 L560.40,37.5 L560.60,44.3 L560.80,31.3 L561.00,31.4 L561.20,34.9 L561.40,40.5 L561.60,48.0 L561.80,44.3 L562.00,48.0 L562.20,41.6 L562.40,38.5 L562.60,33.0 L562.80,39.6 L563.00,44.4 L563.20,37.9 L563.40,45.8 L563.60,36.7 L563.80,45.0 L564.00,38.8 L564.20,35.0 L564.40,38.8 L564.60,39.7 L564.80,47.6 L565.00,50.4 L565.20,39.2 L565.40,37.5 L565.60,42.8 L565.80,40.0 L566.00,37.8 L566.20,45.9 L566.40,49.2 L566.60,48.7 L566.80,39.0 L567.00,33.6 L567.20,36.4 L567.40,52.3 L567.60,41.5 L567.80,46.6 L568.00,46.4 L568.20,45.3 L568.40,36.5 L568.60,44.3 L568.80,54.9 L569.00,50.7 L569.20,51.2 L569.40,55.8 L569.60,49.3 L569.80,54.6 L570.00,52.4 L570.20,57.1 L570.40,54.0 L570.60,53.7 L570.80,51.1 L571.00,55.5 L571.20,58.7 L571.40,55.5 L571.60,50.5 L571.80,48.2 L572.00,48.8 L572.20,55.7 L572.40,55.0 L572.60,42.2 L572.80,50.9 L573.00,50.5 L573.20,43.4 L573.40,50.7 L573.60,41.1 L573.80,45.7 L574.00,47.1 L574.20,45.1 L574.40,51.4 L574.60,50.6 L574.80,63.4 L575.00,52.8 L575.20,43.5 L575.40,46.9 L575.60,50.4 L575.80,48.7 L576.00,45.6 L576.20,45.5 L576.40,60.3 L576.60,53.2 L576.80,52.4 L577.00,59.0 L577.20,54.2 L577.40,65.0 L577.60,59.4 L577.80,64.4 L578.00,67.5 L578.20,49.3 L578.40,66.8 L578.60,71.1 L578.80,55.4 L579.00,49.8 L579.20,64.2 L579.40,57.6 L579.60,50.8 L579.80,55.5 L580.00,69.6 L580.20,70.6 L580.40,69.3 L580.60,58.8 L580.80,78.2 L581.00,58.6 L581.20,65.4 L581.40,57.2 L581.60,76.4 L581.80,70.8 L582.00,75.2 L582.20,69.9 L582.40,70.0 L582.60,72.0 L582.80,59.7 L583.00,71.6 L583.20,78.4 L583.40,68.8 L583.60,72.4 L583.80,73.6 L584.00,82.2 L584.20,74.9 L584.40,71.9 L584.60,69.0 L584.80,63.3 L585.00,68.1 L585.20,74.8 L585.40,72.7 L585.60,74.6 L585.80,80.0 L586.00,80.1 L586.20,78.1 L586.40,80.0 L586.60,86.1 L586.80,75.0 L587.00,79.6 L587.20,67.5 L587.40,86.1 L587.60,70.1 L587.80,68.7 L588.00,81.0 L588.20,86.6 L588.40,78.2 L588.60,71.9 L588.80,84.0 L589.00,77.4 L589.20,76.9 L589.40,76.4 L589.60,94.1 L589.80,83.2 L590.00,80.0 L590.20,71.1 L590.40,78.1 L590.60,78.7 L590.80,89.6 L591.00,79.8 L591.20,79.0 L591.40,89.4 L591.60,81.8 L591.80,84.5 L592.00,87.7 L592.20,94.3 L592.40,96.0 L592.60,93.4 L592.80,88.4 L593.00,82.2 L593.20,92.2 L593.40,97.5 L593.60,84.6 L593.80,82.9 L594.00,91.8 L594.20,75.0 L594.40,71.4 L594.60,82.4 L594.80,88.4 L595.00,87.8 L595.20,79.1 L595.40,83.0 L595.60,80.0 L595.80,76.2 L596.00,76.8 L596.20,82.5 L596.40,82.9 L596.60,77.8 L596.80,79.8 L597.00,62.7 L597.20,68.6 L597.40,72.5 L597.60,75.5 L597.80,63.6 L598.00,82.2 L598.20,73.9 L598.40,68.1 L598.60,70.8 L598.80,67.5 L599.00,64.9 L599.20,72.2 L599.40,67.5 L599.60,59.9 L599.80,57.5 L600.00,64.6 L600.20,58.7 L600.40,64.5 L600.60,56.7 L600.80,72.5 L601.00,67.5 L601.20,55.0 L601.40,60.4 L601.60,66.5 L601.80,60.0 L602.00,53.3 L602.20,65.0 L602.40,70.8 L602.60,49.9 L602.80,62.3 L603.00,58.6 L603.20,56.9 L603.40,54.9 L603.60,54.7 L603.80,63.0 L604.00,58.5 L604.20,52.4 L604.40,63.8 L604.60,45.0 L604.80,56.2 L605.00,51.5 L605.20,59.3 L605.40,54.4 L605.60,59.4 L605.80,51.5 L606.00,57.2 L606.20,53.9 L606.40,65.5 L606.60,47.6 L606.80,60.4 L607.00,54.2 L607.20,56.5 L607.40,49.3 L607.60,60.1 L607.80,43.5 L608.00,44.1 L608.20,55.5 L608.40,41.7 L608.60,59.7 L608.80,49.9 L609.00,54.8 L609.20,53.1 L609.40,53.9 L609.60,50.4 L609.80,49.7 L610.00,51.0 L610.20,58.2 L610.40,58.2 L610.60,57.8 L610.80,50.5 L611.00,47.9 L611.20,38.0 L611.40,51.5 L611.60,51.6 L611.80,44.0 L612.00,49.6 L612.20,52.2 L612.40,45.3 L612.60,51.0 L612.80,45.9 L613.00,34.2 L613.20,40.6 L613.40,42.0 L613.60,48.0 L613.80,40.7 L614.00,40.4 L614.20,40.6 L614.40,46.3 L614.60,48.2 L614.80,54.6 L615.00,53.5 L615.20,49.2 L615.40,49.6 L615.60,36.9 L615.80,48.7 L616.00,55.5 L616.20,36.9 L616.40,45.3 L616.60,47.4 L616.80,55.4 L617.00,39.6 L617.20,50.4 L617.40,57.8 L617.60,47.5 L617.80,59.1 L618.00,49.9 L618.20,43.0 L618.40,56.6 L618.60,55.6 L618.80,61.2 L619.00,53.5 L619.20,47.4 L619.40,48.3 L619.60,54.1 L619.80,51.5 L620.00,50.9 L620.20,49.4 L620.40,53.2 L620.60,43.0 L620.80,48.7 L621.00,57.2 L621.20,40.3 L621.40,51.3 L621.60,51.8 L621.80,45.0 L622.00,40.2 L622.20,42.4 L622.40,51.7 L622.60,44.5 L622.80,45.9 L623.00,48.4 L623.20,45.7 L623.40,47.3 L623.60,45.9 L623.80,53.3 L624.00,45.1 L624.20,54.1 L624.40,47.2 L624.60,44.4 L624.80,38.9 L625.00,51.2 L625.20,38.9 L625.40,48.5 L625.60,41.8 L625.80,45.9 L626.00,53.1 L626.20,45.1 L626.40,50.3 L626.60,45.0 L626.80,53.1 L627.00,43.7 L627.20,38.4 L627.40,37.5 L627.60,37.8 L627.80,41.6 L628.00,40.4 L628.20,45.7 L628.40,41.6 L628.60,33.3 L628.80,39.6 L629.00,36.1 L629.20,37.4 L629.40,40.2 L629.60,44.1 L629.80,34.1 L630.00,38.7 L630.20,33.4 L630.40,40.6 L630.60,27.7 L630.80,30.7 L631.00,41.5 L631.20,35.4 L631.40,33.3 L631.60,47.6 L631.80,47.8 L632.00,42.0 L632.20,48.2 L632.40,48.4 L632.60,37.5 L632.80,48.8 L633.00,38.2 L633.20,40.4 L633.40,36.2 L633.60,41.3 L633.80,32.9 L634.00,38.0 L634.20,44.5 L634.40,44.5 L634.60,40.9 L634.80,46.1 L635.00,34.9 L635.20,35.9 L635.40,38.6 L635.60,40.0 L635.80,38.7 L636.00,42.4 L636.20,39.4 L636.40,36.8 L636.60,37.9 L636.80,44.5 L637.00,44.3 L637.20,38.5 L637.40,40.3 L637.60,41.1 L637.80,45.0 L638.00,46.6 L638.20,47.2 L638.40,42.9 L638.60,48.6 L638.80,41.6 L639.00,42.0 L639.20,56.7 L639.40,42.1 L639.60,46.2 L639.80,45.2 L640.00,54.2 L640.20,45.2 L640.40,49.8 L640.60,49.5 L640.80,44.4 L641.00,42.9 L641.20,53.0 L641.40,51.8 L641.60,54.1 L641.80,56.1 L642.00,52.0 L642.20,56.1 L642.40,49.1 L642.60,50.3 L642.80,49.4 L643.00,46.4 L643.20,59.6 L643.40,42.1 L643.60,52.4 L643.80,53.2 L644.00,51.0 L644.20,45.8 L644.40,49.8 L644.60,40.1 L644.80,50.6 L645.00,50.4 L645.20,53.5 L645.40,47.4 L645.60,52.7 L645.80,54.8 L646.00,49.1 L646.20,42.2 L646.40,48.2 L646.60,36.7 L646.80,36.4 L647.00,38.3 L647.20,39.1 L647.40,38.5 L647.60,44.2 L647.80,47.0 L648.00,49.1 L648.20,39.9 L648.40,43.5 L648.60,35.9 L648.80,42.7 L649.00,38.7 L649.20,40.7 L649.40,34.4 L649.60,34.0 L649.80,46.5 L650.00,48.0 L650.20,35.9 L650.40,52.3 L650.60,45.2 L650.80,42.8 L651.00,47.8 L651.20,41.7 L651.40,51.5 L651.60,35.9 L651.80,39.4 L652.00,45.5 L652.20,42.7 L652.40,50.8 L652.60,38.8 L652.80,41.8 L653.00,46.2 L653.20,46.2 L653.40,47.3 L653.60,50.1 L653.80,44.9 L654.00,39.7 L654.20,42.1 L654.40,46.3 L654.60,40.1 L654.80,41.9 L655.00,31.3 L655.20,39.4 L655.40,37.1 L655.60,38.5 L655.80,32.9 L656.00,43.3 L656.20,34.2 L656.40,43.8 L656.60,48.4 L656.80,37.5 L657.00,41.2 L657.20,37.5 L657.40,45.4 L657.60,39.7 L657.80,40.0 L658.00,32.8 L658.20,40.7 L658.40,31.9 L658.60,38.4 L658.80,29.5 L659.00,35.2 L659.20,40.3 L659.40,30.6 L659.60,34.1 L659.80,39.1 L660.00,35.3 L660.20,39.7 L660.40,26.5 L660.60,37.8 L660.80,39.1 L661.00,28.3 L661.20,30.4 L661.40,40.1 L661.60,30.6 L661.80,32.5 L662.00,37.9 L662.20,28.0 L662.40,25.3 L662.60,28.8 L662.80,36.4 L663.00,39.6 L663.20,34.8 L663.40,26.4 L663.60,35.7 L663.80,33.0 L664.00,27.4 L664.20,42.6 L664.40,24.0 L664.60,43.2 L664.80,29.0 L665.00,28.9 L665.20,28.5 L665.40,24.8 L665.60,33.0 L665.80,22.8 L666.00,35.5 L666.20,39.7 L666.40,28.6 L666.60,37.8 L666.80,38.4 L667.00,25.8 L667.20,27.0 L667.40,28.1 L667.60,38.0 L667.80,38.1 L668.00,28.7 L668.20,25.9 L668.40,40.5 L668.60,25.2 L668.80,35.0 L669.00,30.7 L669.20,24.9 L669.40,35.3 L669.60,24.5 L669.80,43.0 L670.00,27.2 L670.20,34.2 L670.40,40.5 L670.60,40.0 L670.80,31.1 L671.00,30.0 L671.20,43.8 L671.40,35.7 L671.60,37.0 L671.80,35.0 L672.00,34.6 L672.20,31.1 L672.40,39.4 L672.60,41.7 L672.80,31.7 L673.00,26.1 L673.20,32.4 L673.40,27.1 L673.60,33.1 L673.80,45.9 L674.00,39.8 L674.20,41.4 L674.40,30.9 L674.60,45.6 L674.80,27.5 L675.00,38.8 L675.20,30.9 L675.40,50.7 L675.60,37.1 L675.80,34.6 L676.30,72.0" fill="none" stroke="#3652a4" stroke-width="1.6" stroke-linejoin="round"/>
<rect x="37.0" y="15.3" width="639.9" height="248.5" fill="none" stroke="#262626" stroke-width="1.9"/>
<line x1="182.6" y1="263.8" x2="182.6" y2="256.5" stroke="#262626" stroke-width="1.4"/>
<line x1="182.6" y1="15.3" x2="182.6" y2="22.3" stroke="#262626" stroke-width="1.4"/>
<line x1="327.9" y1="263.8" x2="327.9" y2="256.5" stroke="#262626" stroke-width="1.4"/>
<line x1="327.9" y1="15.3" x2="327.9" y2="22.3" stroke="#262626" stroke-width="1.4"/>
<line x1="473.2" y1="263.8" x2="473.2" y2="256.5" stroke="#262626" stroke-width="1.4"/>
<line x1="473.2" y1="15.3" x2="473.2" y2="22.3" stroke="#262626" stroke-width="1.4"/>
<line x1="618.5" y1="263.8" x2="618.5" y2="256.5" stroke="#262626" stroke-width="1.4"/>
<line x1="618.5" y1="15.3" x2="618.5" y2="22.3" stroke="#262626" stroke-width="1.4"/>
<line x1="37.3" y1="98.5" x2="44.3" y2="98.5" stroke="#262626" stroke-width="1.4"/>
<line x1="677" y1="98.5" x2="670" y2="98.5" stroke="#262626" stroke-width="1.4"/>
<line x1="37.3" y1="181" x2="44.3" y2="181" stroke="#262626" stroke-width="1.4"/>
<line x1="677" y1="181" x2="670" y2="181" stroke="#262626" stroke-width="1.4"/>
<text x="36.6" y="291.1" font-family='"Liberation Sans", sans-serif' font-size="24" fill="#222" text-anchor="middle" >0</text>
<text x="181.9" y="291.1" font-family='"Liberation Sans", sans-serif' font-size="24" fill="#222" text-anchor="middle" >50</text>
<text x="327.2" y="291.1" font-family='"Liberation Sans", sans-serif' font-size="24" fill="#222" text-anchor="middle" >100</text>
<text x="472.5" y="291.1" font-family='"Liberation Sans", sans-serif' font-size="24" fill="#222" text-anchor="middle" >150</text>
<text x="617.8" y="291.1" font-family='"Liberation Sans", sans-serif' font-size="24" fill="#222" text-anchor="middle" >200</text>
<text x="238.9" y="320" font-family='"Liberation Sans", sans-serif' font-size="25.5" fill="#222" text-anchor="start" letter-spacing="0.42">RF frequency (MHz)</text>
<g transform="translate(20.4,141) rotate(-90)"><text x="0" y="0" font-family='"Liberation Sans", sans-serif' font-size="24" fill="#222" text-anchor="middle" >Contrast(a.u.)</text></g>
<polygon points="87.4,205.8 95.6,218.7 79.2,218.7" fill="#ff0000"/>
<polygon points="256.6,144.8 264.7,157.7 248.8,157.7" fill="#ff0000"/>
<path d="M241.7,121.7 Q241.7,128.1 248,128.1 L252,128.1 Q256.6,128.1 256.6,135 Q256.6,128.1 261,128.1 L265,128.1 Q271.2,128.1 271.2,121.7" fill="none" stroke="#000" stroke-width="1.6"/>
<polygon points="481.30,237.13 483.52,244.85 490.72,244.85 484.90,249.62 487.12,257.34 481.30,252.57 475.48,257.34 477.70,249.62 471.88,244.85 479.08,244.85" fill="#ff0000"/>
<text x="161" y="174.6" font-family='"Liberation Sans", sans-serif' font-size="24" fill="#000" text-anchor="start" >DEER:</text>
<rect x="164.3" y="177.2" width="53.1" height="41.8" fill="#13753d"/><text x="172.5" y="202.2" font-family='"Liberation Sans", sans-serif' font-size="21.5" fill="#fff" stroke="#fff" stroke-width="0.25" letter-spacing="1.15">Init.</text>
<rect x="229.3" y="175.9" width="14.8" height="43.1" fill="#263280"/><text x="236.7" y="191.2" font-family='"Liberation Serif", serif' font-style="italic" font-size="20.5" fill="#fff" stroke="#fff" stroke-width="0.3" text-anchor="middle">π</text><line x1="231.4" y1="199.5" x2="242.0" y2="199.5" stroke="#fff" stroke-width="1.4"/><text x="236.7" y="216.4" font-family='"Liberation Sans", sans-serif' font-size="17.5" fill="#fff" text-anchor="middle">2</text>
<rect x="282" y="176.3" width="23.4" height="42.7" fill="#263280"/><text x="293.7" y="204.8" font-family='"Liberation Serif", serif' font-style="italic" font-size="20.5" fill="#fff" stroke="#fff" stroke-width="0.3" text-anchor="middle">π</text>
<rect x="341.3" y="175.3" width="15.2" height="43.7" fill="#263280"/><text x="348.9" y="190.6" font-family='"Liberation Serif", serif' font-style="italic" font-size="20.5" fill="#fff" stroke="#fff" stroke-width="0.3" text-anchor="middle">π</text><line x1="343.6" y1="198.9" x2="354.2" y2="198.9" stroke="#fff" stroke-width="1.4"/><text x="348.9" y="215.8" font-family='"Liberation Sans", sans-serif' font-size="17.5" fill="#fff" text-anchor="middle">2</text>
<rect x="360" y="175.3" width="92.0" height="43.7" fill="#13753d"/><text x="381.2" y="201.4" font-family='"Liberation Sans", sans-serif' font-size="18.3" fill="#fff" stroke="#fff" stroke-width="0.25" letter-spacing="0">Read.</text>
<line x1="157.6" y1="220" x2="460" y2="220" stroke="#3a3a3a" stroke-width="2.8"/><polyline points="445.5,212 459.5,220 445.5,228" fill="none" stroke="#3a3a3a" stroke-width="3.4" stroke-linejoin="round" stroke-linecap="round"/>
<line x1="157.6" y1="255" x2="460" y2="255" stroke="#3a3a3a" stroke-width="2.8"/><polyline points="445.5,247 459.5,255 445.5,263" fill="none" stroke="#3a3a3a" stroke-width="3.4" stroke-linejoin="round" stroke-linecap="round"/>
<rect x="282" y="223.5" width="23.4" height="29.8" fill="#8eaadc"/><text x="293.7" y="245.6" font-family='"Liberation Serif", serif' font-style="italic" font-size="20.5" fill="#fff" stroke="#fff" stroke-width="0.3" text-anchor="middle">π</text>
<text x="65.5" y="249.5" font-family='"Liberation Sans", sans-serif' font-size="24" fill="#8eaadc" text-anchor="start" >Frequency sweep</text>
<line x1="256.4" y1="241.8" x2="275" y2="241.8" stroke="#8eaadc" stroke-width="1.8"/>
<polyline points="267,234 275.6,241.8 267,249.6" fill="none" stroke="#8eaadc" stroke-width="1.8"/>
<text x="491" y="199.8" font-family='"Liberation Sans", sans-serif' font-size="24" fill="#000" text-anchor="start" >152MHz @9.5G</text>
<text x="-1" y="362" font-family='"Liberation Sans", sans-serif' font-size="24" fill="#000" text-anchor="start" >(b)</text>
<rect x="33.5" y="372.7" width="44.2" height="41.7" fill="#13753d"/><text x="37.7" y="399.2" font-family='"Liberation Sans", sans-serif' font-size="21.5" fill="#fff" stroke="#fff" stroke-width="0.25" letter-spacing="1.15">Init.</text>
<rect x="79" y="372.7" width="15.3" height="41.7" fill="#263280"/><text x="86.7" y="388.0" font-family='"Liberation Serif", serif' font-style="italic" font-size="20.5" fill="#fff" stroke="#fff" stroke-width="0.3" text-anchor="middle">π</text><line x1="81.4" y1="396.3" x2="92.0" y2="396.3" stroke="#fff" stroke-width="1.4"/><text x="86.7" y="413.2" font-family='"Liberation Sans", sans-serif' font-size="17.5" fill="#fff" text-anchor="middle">2</text>
<text x="114" y="397.8" font-family='"Liberation Serif", serif' font-style="italic" font-size="18.5" fill="#000" stroke="#000" stroke-width="0.3">T</text><text x="122.7" y="400.8" font-family='"Liberation Serif", serif' font-style="italic" font-size="14.8" fill="#000" letter-spacing="2.59" style="font-variant-ligatures:none" stroke="#000" stroke-width="0.3">fix</text>
<rect x="159.2" y="372.5" width="16.6" height="41.9" fill="#263280"/><text x="167.5" y="400.6" font-family='"Liberation Serif", serif' font-style="italic" font-size="20.5" fill="#fff" stroke="#fff" stroke-width="0.3" text-anchor="middle">π</text>
<text x="198.5" y="397.8" font-family='"Liberation Serif", serif' font-style="italic" font-size="18.5" fill="#000" stroke="#000" stroke-width="0.3">T</text><text x="207.2" y="400.8" font-family='"Liberation Serif", serif' font-style="italic" font-size="14.8" fill="#000" letter-spacing="2.59" style="font-variant-ligatures:none" stroke="#000" stroke-width="0.3">fix</text>
<rect x="243" y="372.5" width="15.2" height="41.9" fill="#263280"/><text x="250.6" y="387.8" font-family='"Liberation Serif", serif' font-style="italic" font-size="20.5" fill="#fff" stroke="#fff" stroke-width="0.3" text-anchor="middle">π</text><line x1="245.3" y1="396.1" x2="255.9" y2="396.1" stroke="#fff" stroke-width="1.4"/><text x="250.6" y="413.0" font-family='"Liberation Sans", sans-serif' font-size="17.5" fill="#fff" text-anchor="middle">2</text>
<rect x="259" y="372.5" width="62.4" height="41.9" fill="#13753d"/><text x="268.8" y="401.9" font-family='"Liberation Sans", sans-serif' font-size="18.3" fill="#fff" stroke="#fff" stroke-width="0.25" letter-spacing="0">Read.</text>
<line x1="27.3" y1="415.3" x2="330" y2="415.3" stroke="#3a3a3a" stroke-width="2.8"/><polyline points="315.5,407.3 329.5,415.3 315.5,423.3" fill="none" stroke="#3a3a3a" stroke-width="3.4" stroke-linejoin="round" stroke-linecap="round"/>
<line x1="27.3" y1="450.8" x2="330" y2="450.8" stroke="#3a3a3a" stroke-width="2.8"/><polyline points="315.5,442.8 329.5,450.8 315.5,458.8" fill="none" stroke="#3a3a3a" stroke-width="3.4" stroke-linejoin="round" stroke-linecap="round"/>
<rect x="193" y="418.8" width="16.6" height="30.8" fill="#8eaadc"/><text x="201.3" y="441.4" font-family='"Liberation Serif", serif' font-style="italic" font-size="20.5" fill="#fff" stroke="#fff" stroke-width="0.3" text-anchor="middle">π</text>
<line x1="213" y1="442.7" x2="238" y2="442.7" stroke="#4472c4" stroke-width="2.6"/>
<polygon points="236,436.5 248.5,442.7 236,448.9" fill="#4472c4"/>
<text x="225.5" y="437" font-family='"Liberation Serif", serif' font-style="italic" font-size="18.5" fill="#000" stroke="#000" stroke-width="0.35">t</text>
<line x1="251.1" y1="419.5" x2="251.1" y2="460.5" stroke="#4472c4" stroke-width="1.7" stroke-dasharray="4,3"/>
<rect x="40.7" y="468.6" width="275.5" height="184.0" fill="none" stroke="#262626" stroke-width="1.5"/>
<line x1="40.7" y1="528.2" x2="44.2" y2="528.2" stroke="#262626" stroke-width="1.3"/>
<line x1="316.2" y1="528.2" x2="312.7" y2="528.2" stroke="#262626" stroke-width="1.3"/>
<line x1="40.7" y1="585.6" x2="44.2" y2="585.6" stroke="#262626" stroke-width="1.3"/>
<line x1="316.2" y1="585.6" x2="312.7" y2="585.6" stroke="#262626" stroke-width="1.3"/>
<line x1="40.7" y1="643.2" x2="44.2" y2="643.2" stroke="#262626" stroke-width="1.3"/>
<line x1="316.2" y1="643.2" x2="312.7" y2="643.2" stroke="#262626" stroke-width="1.3"/>
<line x1="132.2" y1="652.6" x2="132.2" y2="649.1" stroke="#262626" stroke-width="1.3"/>
<line x1="132.2" y1="468.6" x2="132.2" y2="472.1" stroke="#262626" stroke-width="1.3"/>
<line x1="223.6" y1="652.6" x2="223.6" y2="649.1" stroke="#262626" stroke-width="1.3"/>
<line x1="223.6" y1="468.6" x2="223.6" y2="472.1" stroke="#262626" stroke-width="1.3"/>
<line x1="315.0" y1="652.6" x2="315.0" y2="649.1" stroke="#262626" stroke-width="1.3"/>
<line x1="315.0" y1="468.6" x2="315.0" y2="472.1" stroke="#262626" stroke-width="1.3"/>
<text x="40.7" y="680.5" font-family='"Liberation Sans", sans-serif' font-size="24" fill="#222" text-anchor="middle" >0</text>
<text x="132.2" y="680.5" font-family='"Liberation Sans", sans-serif' font-size="24" fill="#222" text-anchor="middle" >100</text>
<text x="223.6" y="680.5" font-family='"Liberation Sans", sans-serif' font-size="24" fill="#222" text-anchor="middle" >200</text>
<text x="315.0" y="680.5" font-family='"Liberation Sans", sans-serif' font-size="24" fill="#222" text-anchor="middle" >300</text>
<g transform="translate(25,569.5) rotate(-90)"><text x="0" y="0" font-family='"Liberation Sans", sans-serif' font-size="24" fill="#222" text-anchor="middle" >Contrast(a.u.)</text></g>
<text x="142" y="699.7" font-family='"Liberation Sans", sans-serif' font-size="24" fill="#222">2<tspan font-style="italic">t</tspan>(<tspan font-style="italic">μ</tspan>s)</text>
<circle cx="41.8" cy="472.8" r="3.0" fill="#0c1f5e"/><circle cx="48.0" cy="484.0" r="3.0" fill="#0c1f5e"/><circle cx="49.9" cy="495.9" r="3.0" fill="#0c1f5e"/><circle cx="50.7" cy="495.2" r="3.0" fill="#0c1f5e"/><circle cx="51.8" cy="498.6" r="3.0" fill="#0c1f5e"/><circle cx="52.4" cy="500.9" r="3.0" fill="#0c1f5e"/><circle cx="53.3" cy="503.4" r="3.0" fill="#0c1f5e"/><circle cx="54.1" cy="501.3" r="3.0" fill="#0c1f5e"/><circle cx="55.0" cy="500.2" r="3.0" fill="#0c1f5e"/><circle cx="56.0" cy="500.2" r="3.0" fill="#0c1f5e"/><circle cx="56.7" cy="504.7" r="3.0" fill="#0c1f5e"/><circle cx="57.7" cy="507.4" r="3.0" fill="#0c1f5e"/><circle cx="59.1" cy="504.3" r="3.0" fill="#0c1f5e"/><circle cx="59.6" cy="500.8" r="3.0" fill="#0c1f5e"/><circle cx="59.8" cy="501.9" r="3.0" fill="#0c1f5e"/><circle cx="61.6" cy="509.0" r="3.0" fill="#0c1f5e"/><circle cx="62.1" cy="506.0" r="3.0" fill="#0c1f5e"/><circle cx="62.5" cy="501.9" r="3.0" fill="#0c1f5e"/><circle cx="64.0" cy="507.1" r="3.0" fill="#0c1f5e"/><circle cx="64.5" cy="505.3" r="3.0" fill="#0c1f5e"/><circle cx="65.2" cy="508.0" r="3.0" fill="#0c1f5e"/><circle cx="66.1" cy="511.4" r="3.0" fill="#0c1f5e"/><circle cx="66.8" cy="513.8" r="3.0" fill="#0c1f5e"/><circle cx="68.0" cy="519.9" r="3.0" fill="#0c1f5e"/><circle cx="69.1" cy="520.9" r="3.0" fill="#0c1f5e"/><circle cx="69.6" cy="522.1" r="3.0" fill="#0c1f5e"/><circle cx="70.7" cy="527.5" r="3.0" fill="#0c1f5e"/><circle cx="71.9" cy="531.4" r="3.0" fill="#0c1f5e"/><circle cx="71.9" cy="527.9" r="3.0" fill="#0c1f5e"/><circle cx="73.2" cy="534.3" r="3.0" fill="#0c1f5e"/><circle cx="73.9" cy="535.3" r="3.0" fill="#0c1f5e"/><circle cx="74.5" cy="538.9" r="3.0" fill="#0c1f5e"/><circle cx="75.4" cy="537.4" r="3.0" fill="#0c1f5e"/><circle cx="76.5" cy="542.3" r="3.0" fill="#0c1f5e"/><circle cx="77.5" cy="543.6" r="3.0" fill="#0c1f5e"/><circle cx="78.1" cy="544.3" r="3.0" fill="#0c1f5e"/><circle cx="79.1" cy="543.8" r="3.0" fill="#0c1f5e"/><circle cx="80.2" cy="546.9" r="3.0" fill="#0c1f5e"/><circle cx="80.9" cy="546.6" r="3.0" fill="#0c1f5e"/><circle cx="81.9" cy="547.3" r="3.0" fill="#0c1f5e"/><circle cx="82.6" cy="553.0" r="3.0" fill="#0c1f5e"/><circle cx="83.5" cy="551.0" r="3.0" fill="#0c1f5e"/><circle cx="84.8" cy="558.4" r="3.0" fill="#0c1f5e"/><circle cx="85.3" cy="558.7" r="3.0" fill="#0c1f5e"/><circle cx="86.0" cy="553.2" r="3.0" fill="#0c1f5e"/><circle cx="87.0" cy="560.4" r="3.0" fill="#0c1f5e"/><circle cx="87.4" cy="558.2" r="3.0" fill="#0c1f5e"/><circle cx="88.4" cy="562.5" r="3.0" fill="#0c1f5e"/><circle cx="89.6" cy="563.8" r="3.0" fill="#0c1f5e"/><circle cx="90.4" cy="559.9" r="3.0" fill="#0c1f5e"/><circle cx="91.5" cy="565.8" r="3.0" fill="#0c1f5e"/><circle cx="91.9" cy="567.1" r="3.0" fill="#0c1f5e"/><circle cx="92.3" cy="571.6" r="3.0" fill="#0c1f5e"/><circle cx="94.2" cy="568.0" r="3.0" fill="#0c1f5e"/><circle cx="94.8" cy="575.5" r="3.0" fill="#0c1f5e"/><circle cx="95.0" cy="573.3" r="3.0" fill="#0c1f5e"/><circle cx="96.6" cy="577.9" r="3.0" fill="#0c1f5e"/><circle cx="97.1" cy="578.7" r="3.0" fill="#0c1f5e"/><circle cx="97.4" cy="586.6" r="3.0" fill="#0c1f5e"/><circle cx="98.6" cy="586.3" r="3.0" fill="#0c1f5e"/><circle cx="99.5" cy="593.1" r="3.0" fill="#0c1f5e"/><circle cx="100.9" cy="590.4" r="3.0" fill="#0c1f5e"/><circle cx="101.1" cy="591.9" r="3.0" fill="#0c1f5e"/><circle cx="102.1" cy="592.6" r="3.0" fill="#0c1f5e"/><circle cx="102.9" cy="589.7" r="3.0" fill="#0c1f5e"/><circle cx="103.8" cy="591.9" r="3.0" fill="#0c1f5e"/><circle cx="104.5" cy="596.3" r="3.0" fill="#0c1f5e"/><circle cx="105.7" cy="592.6" r="3.0" fill="#0c1f5e"/><circle cx="106.8" cy="595.4" r="3.0" fill="#0c1f5e"/><circle cx="107.5" cy="596.7" r="3.0" fill="#0c1f5e"/><circle cx="107.9" cy="600.1" r="3.0" fill="#0c1f5e"/><circle cx="108.7" cy="599.3" r="3.0" fill="#0c1f5e"/><circle cx="109.9" cy="601.6" r="3.0" fill="#0c1f5e"/><circle cx="110.5" cy="604.4" r="3.0" fill="#0c1f5e"/><circle cx="111.4" cy="607.1" r="3.0" fill="#0c1f5e"/><circle cx="111.9" cy="610.2" r="3.0" fill="#0c1f5e"/><circle cx="113.9" cy="620.3" r="3.0" fill="#0c1f5e"/><circle cx="114.4" cy="616.1" r="3.0" fill="#0c1f5e"/><circle cx="114.7" cy="617.2" r="3.0" fill="#0c1f5e"/><circle cx="116.1" cy="617.8" r="3.0" fill="#0c1f5e"/><circle cx="117.1" cy="624.5" r="3.0" fill="#0c1f5e"/><circle cx="116.9" cy="621.9" r="3.0" fill="#0c1f5e"/><circle cx="118.3" cy="621.1" r="3.0" fill="#0c1f5e"/><circle cx="119.2" cy="621.5" r="3.0" fill="#0c1f5e"/><circle cx="120.3" cy="626.4" r="3.0" fill="#0c1f5e"/><circle cx="121.0" cy="623.4" r="3.0" fill="#0c1f5e"/><circle cx="121.8" cy="623.7" r="3.0" fill="#0c1f5e"/><circle cx="122.7" cy="629.4" r="3.0" fill="#0c1f5e"/><circle cx="124.1" cy="625.5" r="3.0" fill="#0c1f5e"/><circle cx="125.1" cy="628.6" r="3.0" fill="#0c1f5e"/><circle cx="125.1" cy="630.2" r="3.0" fill="#0c1f5e"/><circle cx="125.8" cy="629.8" r="3.0" fill="#0c1f5e"/><circle cx="127.8" cy="631.6" r="3.0" fill="#0c1f5e"/><circle cx="127.5" cy="635.9" r="3.0" fill="#0c1f5e"/><circle cx="128.5" cy="631.9" r="3.0" fill="#0c1f5e"/><circle cx="129.6" cy="630.7" r="3.0" fill="#0c1f5e"/><circle cx="130.5" cy="629.9" r="3.0" fill="#0c1f5e"/>
<circle cx="42.4" cy="468.6" r="3.0" fill="#8782c3"/><circle cx="46.9" cy="479.0" r="3.0" fill="#8782c3"/><circle cx="47.8" cy="481.8" r="3.0" fill="#8782c3"/><circle cx="49.5" cy="488.9" r="3.0" fill="#8782c3"/><circle cx="50.4" cy="487.1" r="3.0" fill="#8782c3"/><circle cx="51.4" cy="481.3" r="3.0" fill="#8782c3"/><circle cx="52.3" cy="487.6" r="3.0" fill="#8782c3"/><circle cx="53.7" cy="486.2" r="3.0" fill="#8782c3"/><circle cx="54.6" cy="489.1" r="3.0" fill="#8782c3"/><circle cx="55.0" cy="484.1" r="3.0" fill="#8782c3"/><circle cx="56.6" cy="490.4" r="3.0" fill="#8782c3"/><circle cx="57.5" cy="490.8" r="3.0" fill="#8782c3"/><circle cx="58.4" cy="495.1" r="3.0" fill="#8782c3"/><circle cx="59.8" cy="491.4" r="3.0" fill="#8782c3"/><circle cx="60.6" cy="492.2" r="3.0" fill="#8782c3"/><circle cx="60.7" cy="486.1" r="3.0" fill="#8782c3"/><circle cx="63.1" cy="497.9" r="3.0" fill="#8782c3"/><circle cx="64.0" cy="485.6" r="3.0" fill="#8782c3"/><circle cx="64.7" cy="495.8" r="3.0" fill="#8782c3"/><circle cx="65.7" cy="492.2" r="3.0" fill="#8782c3"/><circle cx="66.9" cy="491.4" r="3.0" fill="#8782c3"/><circle cx="67.5" cy="492.8" r="3.0" fill="#8782c3"/><circle cx="69.0" cy="493.4" r="3.0" fill="#8782c3"/><circle cx="69.9" cy="497.4" r="3.0" fill="#8782c3"/><circle cx="70.9" cy="496.6" r="3.0" fill="#8782c3"/><circle cx="71.8" cy="502.3" r="3.0" fill="#8782c3"/><circle cx="72.9" cy="492.7" r="3.0" fill="#8782c3"/><circle cx="74.5" cy="499.1" r="3.0" fill="#8782c3"/><circle cx="75.6" cy="497.1" r="3.0" fill="#8782c3"/><circle cx="76.4" cy="505.9" r="3.0" fill="#8782c3"/><circle cx="77.3" cy="501.3" r="3.0" fill="#8782c3"/><circle cx="78.1" cy="508.2" r="3.0" fill="#8782c3"/><circle cx="79.6" cy="511.2" r="3.0" fill="#8782c3"/><circle cx="80.9" cy="507.2" r="3.0" fill="#8782c3"/><circle cx="81.0" cy="516.1" r="3.0" fill="#8782c3"/><circle cx="82.8" cy="514.9" r="3.0" fill="#8782c3"/><circle cx="82.9" cy="518.7" r="3.0" fill="#8782c3"/><circle cx="84.5" cy="519.8" r="3.0" fill="#8782c3"/><circle cx="85.7" cy="515.1" r="3.0" fill="#8782c3"/><circle cx="86.3" cy="516.9" r="3.0" fill="#8782c3"/><circle cx="87.3" cy="520.0" r="3.0" fill="#8782c3"/><circle cx="88.8" cy="524.2" r="3.0" fill="#8782c3"/><circle cx="90.1" cy="525.7" r="3.0" fill="#8782c3"/><circle cx="90.7" cy="522.0" r="3.0" fill="#8782c3"/><circle cx="92.3" cy="523.6" r="3.0" fill="#8782c3"/><circle cx="92.7" cy="524.2" r="3.0" fill="#8782c3"/><circle cx="94.5" cy="526.0" r="3.0" fill="#8782c3"/><circle cx="95.1" cy="528.3" r="3.0" fill="#8782c3"/><circle cx="96.1" cy="529.8" r="3.0" fill="#8782c3"/><circle cx="97.3" cy="537.8" r="3.0" fill="#8782c3"/><circle cx="98.2" cy="531.0" r="3.0" fill="#8782c3"/><circle cx="99.7" cy="532.8" r="3.0" fill="#8782c3"/><circle cx="100.9" cy="536.1" r="3.0" fill="#8782c3"/><circle cx="101.4" cy="532.7" r="3.0" fill="#8782c3"/><circle cx="102.3" cy="535.5" r="3.0" fill="#8782c3"/><circle cx="103.0" cy="537.7" r="3.0" fill="#8782c3"/><circle cx="104.2" cy="541.0" r="3.0" fill="#8782c3"/><circle cx="105.5" cy="535.5" r="3.0" fill="#8782c3"/><circle cx="106.5" cy="544.9" r="3.0" fill="#8782c3"/><circle cx="107.5" cy="540.5" r="3.0" fill="#8782c3"/><circle cx="108.6" cy="543.1" r="3.0" fill="#8782c3"/><circle cx="109.8" cy="546.2" r="3.0" fill="#8782c3"/><circle cx="110.3" cy="546.5" r="3.0" fill="#8782c3"/><circle cx="111.4" cy="548.6" r="3.0" fill="#8782c3"/><circle cx="113.1" cy="546.7" r="3.0" fill="#8782c3"/><circle cx="114.1" cy="547.0" r="3.0" fill="#8782c3"/><circle cx="114.7" cy="548.9" r="3.0" fill="#8782c3"/><circle cx="116.3" cy="545.7" r="3.0" fill="#8782c3"/><circle cx="116.7" cy="553.4" r="3.0" fill="#8782c3"/><circle cx="117.9" cy="548.1" r="3.0" fill="#8782c3"/><circle cx="118.5" cy="547.5" r="3.0" fill="#8782c3"/><circle cx="120.3" cy="558.6" r="3.0" fill="#8782c3"/><circle cx="121.1" cy="552.5" r="3.0" fill="#8782c3"/><circle cx="122.5" cy="550.0" r="3.0" fill="#8782c3"/><circle cx="123.4" cy="560.1" r="3.0" fill="#8782c3"/><circle cx="124.3" cy="554.1" r="3.0" fill="#8782c3"/><circle cx="125.3" cy="559.1" r="3.0" fill="#8782c3"/><circle cx="126.7" cy="553.9" r="3.0" fill="#8782c3"/><circle cx="127.3" cy="556.4" r="3.0" fill="#8782c3"/><circle cx="128.4" cy="552.7" r="3.0" fill="#8782c3"/><circle cx="129.5" cy="552.7" r="3.0" fill="#8782c3"/><circle cx="130.7" cy="556.3" r="3.0" fill="#8782c3"/><circle cx="131.8" cy="559.9" r="3.0" fill="#8782c3"/><circle cx="133.2" cy="563.4" r="3.0" fill="#8782c3"/><circle cx="133.6" cy="569.2" r="3.0" fill="#8782c3"/><circle cx="135.1" cy="559.3" r="3.0" fill="#8782c3"/><circle cx="135.5" cy="566.4" r="3.0" fill="#8782c3"/><circle cx="137.0" cy="562.1" r="3.0" fill="#8782c3"/><circle cx="137.9" cy="564.3" r="3.0" fill="#8782c3"/><circle cx="139.4" cy="561.0" r="3.0" fill="#8782c3"/><circle cx="140.1" cy="561.7" r="3.0" fill="#8782c3"/><circle cx="140.8" cy="564.7" r="3.0" fill="#8782c3"/><circle cx="142.2" cy="564.5" r="3.0" fill="#8782c3"/><circle cx="143.1" cy="569.2" r="3.0" fill="#8782c3"/><circle cx="144.0" cy="568.0" r="3.0" fill="#8782c3"/><circle cx="145.0" cy="575.1" r="3.0" fill="#8782c3"/><circle cx="145.9" cy="572.7" r="3.0" fill="#8782c3"/><circle cx="148.0" cy="573.8" r="3.0" fill="#8782c3"/><circle cx="148.3" cy="577.8" r="3.0" fill="#8782c3"/><circle cx="149.6" cy="576.9" r="3.0" fill="#8782c3"/><circle cx="150.0" cy="576.2" r="3.0" fill="#8782c3"/><circle cx="151.1" cy="577.2" r="3.0" fill="#8782c3"/><circle cx="152.4" cy="578.3" r="3.0" fill="#8782c3"/><circle cx="153.4" cy="583.3" r="3.0" fill="#8782c3"/><circle cx="154.8" cy="583.6" r="3.0" fill="#8782c3"/><circle cx="155.3" cy="583.5" r="3.0" fill="#8782c3"/><circle cx="156.8" cy="586.1" r="3.0" fill="#8782c3"/><circle cx="158.1" cy="583.2" r="3.0" fill="#8782c3"/><circle cx="158.4" cy="587.7" r="3.0" fill="#8782c3"/><circle cx="160.0" cy="582.9" r="3.0" fill="#8782c3"/><circle cx="160.5" cy="592.7" r="3.0" fill="#8782c3"/><circle cx="161.9" cy="590.1" r="3.0" fill="#8782c3"/><circle cx="163.0" cy="591.3" r="3.0" fill="#8782c3"/><circle cx="164.4" cy="593.6" r="3.0" fill="#8782c3"/><circle cx="164.8" cy="592.6" r="3.0" fill="#8782c3"/><circle cx="166.1" cy="592.8" r="3.0" fill="#8782c3"/><circle cx="167.4" cy="598.2" r="3.0" fill="#8782c3"/><circle cx="167.7" cy="595.8" r="3.0" fill="#8782c3"/><circle cx="169.1" cy="593.6" r="3.0" fill="#8782c3"/><circle cx="169.9" cy="598.7" r="3.0" fill="#8782c3"/><circle cx="171.0" cy="593.0" r="3.0" fill="#8782c3"/><circle cx="172.5" cy="604.3" r="3.0" fill="#8782c3"/><circle cx="173.5" cy="599.4" r="3.0" fill="#8782c3"/><circle cx="175.1" cy="600.8" r="3.0" fill="#8782c3"/><circle cx="175.8" cy="608.5" r="3.0" fill="#8782c3"/><circle cx="176.8" cy="608.9" r="3.0" fill="#8782c3"/><circle cx="177.4" cy="603.3" r="3.0" fill="#8782c3"/><circle cx="178.4" cy="605.7" r="3.0" fill="#8782c3"/><circle cx="179.6" cy="607.9" r="3.0" fill="#8782c3"/><circle cx="179.9" cy="610.5" r="3.0" fill="#8782c3"/><circle cx="182.2" cy="605.6" r="3.0" fill="#8782c3"/><circle cx="182.5" cy="607.2" r="3.0" fill="#8782c3"/><circle cx="183.4" cy="611.4" r="3.0" fill="#8782c3"/><circle cx="184.7" cy="609.3" r="3.0" fill="#8782c3"/><circle cx="186.1" cy="611.6" r="3.0" fill="#8782c3"/><circle cx="187.3" cy="612.1" r="3.0" fill="#8782c3"/><circle cx="187.8" cy="607.5" r="3.0" fill="#8782c3"/><circle cx="189.1" cy="609.2" r="3.0" fill="#8782c3"/><circle cx="190.0" cy="604.5" r="3.0" fill="#8782c3"/><circle cx="190.8" cy="612.8" r="3.0" fill="#8782c3"/><circle cx="192.1" cy="618.6" r="3.0" fill="#8782c3"/><circle cx="193.1" cy="611.8" r="3.0" fill="#8782c3"/><circle cx="193.7" cy="620.0" r="3.0" fill="#8782c3"/><circle cx="195.6" cy="620.0" r="3.0" fill="#8782c3"/><circle cx="195.8" cy="617.6" r="3.0" fill="#8782c3"/><circle cx="197.4" cy="618.5" r="3.0" fill="#8782c3"/><circle cx="198.0" cy="619.6" r="3.0" fill="#8782c3"/><circle cx="199.2" cy="617.5" r="3.0" fill="#8782c3"/><circle cx="200.2" cy="620.1" r="3.0" fill="#8782c3"/><circle cx="201.7" cy="621.7" r="3.0" fill="#8782c3"/><circle cx="202.2" cy="624.5" r="3.0" fill="#8782c3"/><circle cx="203.5" cy="625.9" r="3.0" fill="#8782c3"/><circle cx="205.1" cy="622.0" r="3.0" fill="#8782c3"/><circle cx="205.5" cy="628.0" r="3.0" fill="#8782c3"/><circle cx="206.7" cy="624.1" r="3.0" fill="#8782c3"/><circle cx="207.9" cy="627.0" r="3.0" fill="#8782c3"/><circle cx="208.6" cy="629.8" r="3.0" fill="#8782c3"/><circle cx="210.0" cy="629.6" r="3.0" fill="#8782c3"/><circle cx="210.7" cy="630.4" r="3.0" fill="#8782c3"/><circle cx="212.1" cy="632.7" r="3.0" fill="#8782c3"/><circle cx="213.0" cy="631.2" r="3.0" fill="#8782c3"/><circle cx="213.7" cy="632.0" r="3.0" fill="#8782c3"/><circle cx="215.5" cy="635.0" r="3.0" fill="#8782c3"/><circle cx="216.1" cy="640.2" r="3.0" fill="#8782c3"/><circle cx="217.1" cy="638.5" r="3.0" fill="#8782c3"/><circle cx="217.9" cy="646.3" r="3.0" fill="#8782c3"/><circle cx="219.1" cy="642.7" r="3.0" fill="#8782c3"/><circle cx="220.2" cy="634.4" r="3.0" fill="#8782c3"/><circle cx="221.4" cy="643.8" r="3.0" fill="#8782c3"/><circle cx="222.7" cy="652.0" r="3.0" fill="#8782c3"/><circle cx="223.0" cy="648.4" r="3.0" fill="#8782c3"/>
<circle cx="42.6" cy="488.0" r="3.0" fill="#8cd2b4"/><circle cx="44.9" cy="482.9" r="3.0" fill="#8cd2b4"/><circle cx="46.7" cy="468.6" r="3.0" fill="#8cd2b4"/><circle cx="47.6" cy="476.2" r="3.0" fill="#8cd2b4"/><circle cx="49.5" cy="472.3" r="3.0" fill="#8cd2b4"/><circle cx="50.8" cy="471.6" r="3.0" fill="#8cd2b4"/><circle cx="51.1" cy="471.4" r="3.0" fill="#8cd2b4"/><circle cx="52.9" cy="465.5" r="3.0" fill="#8cd2b4"/><circle cx="54.1" cy="470.0" r="3.0" fill="#8cd2b4"/><circle cx="55.0" cy="467.5" r="3.0" fill="#8cd2b4"/><circle cx="56.7" cy="479.0" r="3.0" fill="#8cd2b4"/><circle cx="57.7" cy="470.3" r="3.0" fill="#8cd2b4"/><circle cx="58.5" cy="469.9" r="3.0" fill="#8cd2b4"/><circle cx="60.2" cy="471.4" r="3.0" fill="#8cd2b4"/><circle cx="61.5" cy="471.5" r="3.0" fill="#8cd2b4"/><circle cx="62.8" cy="471.7" r="3.0" fill="#8cd2b4"/><circle cx="63.6" cy="474.3" r="3.0" fill="#8cd2b4"/><circle cx="65.4" cy="477.3" r="3.0" fill="#8cd2b4"/><circle cx="66.6" cy="475.8" r="3.0" fill="#8cd2b4"/><circle cx="67.3" cy="479.8" r="3.0" fill="#8cd2b4"/><circle cx="68.7" cy="476.9" r="3.0" fill="#8cd2b4"/><circle cx="70.1" cy="478.1" r="3.0" fill="#8cd2b4"/><circle cx="71.2" cy="483.3" r="3.0" fill="#8cd2b4"/><circle cx="73.1" cy="481.1" r="3.0" fill="#8cd2b4"/><circle cx="73.9" cy="478.7" r="3.0" fill="#8cd2b4"/><circle cx="74.7" cy="480.3" r="3.0" fill="#8cd2b4"/><circle cx="76.0" cy="483.1" r="3.0" fill="#8cd2b4"/><circle cx="77.5" cy="487.9" r="3.0" fill="#8cd2b4"/><circle cx="79.4" cy="482.1" r="3.0" fill="#8cd2b4"/><circle cx="79.9" cy="482.9" r="3.0" fill="#8cd2b4"/><circle cx="81.2" cy="487.2" r="3.0" fill="#8cd2b4"/><circle cx="82.6" cy="482.3" r="3.0" fill="#8cd2b4"/><circle cx="83.6" cy="484.7" r="3.0" fill="#8cd2b4"/><circle cx="85.6" cy="488.8" r="3.0" fill="#8cd2b4"/><circle cx="86.0" cy="488.6" r="3.0" fill="#8cd2b4"/><circle cx="87.6" cy="487.8" r="3.0" fill="#8cd2b4"/><circle cx="88.6" cy="490.2" r="3.0" fill="#8cd2b4"/><circle cx="90.0" cy="480.7" r="3.0" fill="#8cd2b4"/><circle cx="90.7" cy="492.4" r="3.0" fill="#8cd2b4"/><circle cx="92.8" cy="487.2" r="3.0" fill="#8cd2b4"/><circle cx="93.5" cy="485.7" r="3.0" fill="#8cd2b4"/><circle cx="94.7" cy="491.9" r="3.0" fill="#8cd2b4"/><circle cx="95.7" cy="493.7" r="3.0" fill="#8cd2b4"/><circle cx="97.0" cy="490.9" r="3.0" fill="#8cd2b4"/><circle cx="98.6" cy="489.7" r="3.0" fill="#8cd2b4"/><circle cx="99.9" cy="493.4" r="3.0" fill="#8cd2b4"/><circle cx="101.1" cy="493.6" r="3.0" fill="#8cd2b4"/><circle cx="102.5" cy="498.1" r="3.0" fill="#8cd2b4"/><circle cx="103.6" cy="496.5" r="3.0" fill="#8cd2b4"/><circle cx="104.6" cy="495.2" r="3.0" fill="#8cd2b4"/><circle cx="106.1" cy="498.2" r="3.0" fill="#8cd2b4"/><circle cx="107.2" cy="494.7" r="3.0" fill="#8cd2b4"/><circle cx="108.2" cy="492.9" r="3.0" fill="#8cd2b4"/><circle cx="109.7" cy="497.6" r="3.0" fill="#8cd2b4"/><circle cx="111.1" cy="497.9" r="3.0" fill="#8cd2b4"/><circle cx="112.0" cy="495.9" r="3.0" fill="#8cd2b4"/><circle cx="113.1" cy="494.6" r="3.0" fill="#8cd2b4"/><circle cx="114.6" cy="497.8" r="3.0" fill="#8cd2b4"/><circle cx="116.2" cy="490.2" r="3.0" fill="#8cd2b4"/><circle cx="116.8" cy="499.8" r="3.0" fill="#8cd2b4"/><circle cx="118.1" cy="499.5" r="3.0" fill="#8cd2b4"/><circle cx="119.3" cy="493.7" r="3.0" fill="#8cd2b4"/><circle cx="120.9" cy="498.8" r="3.0" fill="#8cd2b4"/><circle cx="121.2" cy="496.1" r="3.0" fill="#8cd2b4"/><circle cx="123.1" cy="501.3" r="3.0" fill="#8cd2b4"/><circle cx="124.6" cy="493.4" r="3.0" fill="#8cd2b4"/><circle cx="125.2" cy="496.8" r="3.0" fill="#8cd2b4"/><circle cx="127.2" cy="501.8" r="3.0" fill="#8cd2b4"/><circle cx="128.1" cy="503.3" r="3.0" fill="#8cd2b4"/><circle cx="129.0" cy="493.9" r="3.0" fill="#8cd2b4"/><circle cx="130.5" cy="498.9" r="3.0" fill="#8cd2b4"/><circle cx="131.2" cy="501.5" r="3.0" fill="#8cd2b4"/><circle cx="132.7" cy="499.0" r="3.0" fill="#8cd2b4"/><circle cx="134.7" cy="505.6" r="3.0" fill="#8cd2b4"/><circle cx="135.1" cy="497.7" r="3.0" fill="#8cd2b4"/><circle cx="137.1" cy="502.4" r="3.0" fill="#8cd2b4"/><circle cx="137.8" cy="498.6" r="3.0" fill="#8cd2b4"/><circle cx="139.3" cy="505.9" r="3.0" fill="#8cd2b4"/><circle cx="140.3" cy="502.0" r="3.0" fill="#8cd2b4"/><circle cx="140.8" cy="501.3" r="3.0" fill="#8cd2b4"/><circle cx="142.5" cy="497.7" r="3.0" fill="#8cd2b4"/><circle cx="144.0" cy="507.9" r="3.0" fill="#8cd2b4"/><circle cx="144.8" cy="505.5" r="3.0" fill="#8cd2b4"/><circle cx="146.0" cy="505.8" r="3.0" fill="#8cd2b4"/><circle cx="147.7" cy="507.2" r="3.0" fill="#8cd2b4"/><circle cx="148.7" cy="505.2" r="3.0" fill="#8cd2b4"/><circle cx="149.6" cy="502.7" r="3.0" fill="#8cd2b4"/><circle cx="151.1" cy="502.5" r="3.0" fill="#8cd2b4"/><circle cx="152.8" cy="502.8" r="3.0" fill="#8cd2b4"/><circle cx="153.7" cy="509.4" r="3.0" fill="#8cd2b4"/><circle cx="155.3" cy="501.5" r="3.0" fill="#8cd2b4"/><circle cx="156.7" cy="504.3" r="3.0" fill="#8cd2b4"/><circle cx="157.5" cy="505.4" r="3.0" fill="#8cd2b4"/><circle cx="158.4" cy="507.3" r="3.0" fill="#8cd2b4"/><circle cx="159.6" cy="508.7" r="3.0" fill="#8cd2b4"/><circle cx="161.2" cy="503.7" r="3.0" fill="#8cd2b4"/><circle cx="162.7" cy="502.6" r="3.0" fill="#8cd2b4"/><circle cx="163.7" cy="507.8" r="3.0" fill="#8cd2b4"/><circle cx="165.0" cy="511.6" r="3.0" fill="#8cd2b4"/><circle cx="166.0" cy="510.5" r="3.0" fill="#8cd2b4"/><circle cx="167.4" cy="509.1" r="3.0" fill="#8cd2b4"/><circle cx="168.4" cy="507.8" r="3.0" fill="#8cd2b4"/><circle cx="169.7" cy="509.8" r="3.0" fill="#8cd2b4"/><circle cx="170.6" cy="508.5" r="3.0" fill="#8cd2b4"/><circle cx="171.8" cy="511.8" r="3.0" fill="#8cd2b4"/><circle cx="173.3" cy="507.4" r="3.0" fill="#8cd2b4"/><circle cx="174.4" cy="510.3" r="3.0" fill="#8cd2b4"/><circle cx="175.7" cy="509.8" r="3.0" fill="#8cd2b4"/><circle cx="177.4" cy="512.0" r="3.0" fill="#8cd2b4"/><circle cx="178.4" cy="511.3" r="3.0" fill="#8cd2b4"/><circle cx="180.5" cy="518.3" r="3.0" fill="#8cd2b4"/><circle cx="181.1" cy="515.4" r="3.0" fill="#8cd2b4"/><circle cx="181.9" cy="515.7" r="3.0" fill="#8cd2b4"/><circle cx="183.6" cy="505.7" r="3.0" fill="#8cd2b4"/><circle cx="184.7" cy="510.8" r="3.0" fill="#8cd2b4"/><circle cx="185.6" cy="510.3" r="3.0" fill="#8cd2b4"/><circle cx="187.3" cy="513.9" r="3.0" fill="#8cd2b4"/><circle cx="188.0" cy="506.0" r="3.0" fill="#8cd2b4"/><circle cx="188.6" cy="516.3" r="3.0" fill="#8cd2b4"/><circle cx="190.9" cy="516.2" r="3.0" fill="#8cd2b4"/><circle cx="191.8" cy="509.6" r="3.0" fill="#8cd2b4"/><circle cx="193.6" cy="510.8" r="3.0" fill="#8cd2b4"/><circle cx="194.2" cy="511.6" r="3.0" fill="#8cd2b4"/><circle cx="195.3" cy="514.3" r="3.0" fill="#8cd2b4"/><circle cx="197.3" cy="516.3" r="3.0" fill="#8cd2b4"/><circle cx="197.8" cy="520.6" r="3.0" fill="#8cd2b4"/><circle cx="199.4" cy="514.4" r="3.0" fill="#8cd2b4"/><circle cx="201.0" cy="517.4" r="3.0" fill="#8cd2b4"/><circle cx="201.8" cy="515.9" r="3.0" fill="#8cd2b4"/><circle cx="203.0" cy="520.8" r="3.0" fill="#8cd2b4"/><circle cx="204.3" cy="518.1" r="3.0" fill="#8cd2b4"/><circle cx="205.7" cy="520.2" r="3.0" fill="#8cd2b4"/><circle cx="206.5" cy="513.3" r="3.0" fill="#8cd2b4"/><circle cx="208.1" cy="516.1" r="3.0" fill="#8cd2b4"/><circle cx="209.3" cy="514.6" r="3.0" fill="#8cd2b4"/><circle cx="211.1" cy="521.5" r="3.0" fill="#8cd2b4"/><circle cx="211.5" cy="519.3" r="3.0" fill="#8cd2b4"/><circle cx="212.6" cy="516.7" r="3.0" fill="#8cd2b4"/><circle cx="214.3" cy="516.5" r="3.0" fill="#8cd2b4"/><circle cx="215.2" cy="519.5" r="3.0" fill="#8cd2b4"/><circle cx="216.6" cy="516.3" r="3.0" fill="#8cd2b4"/><circle cx="217.8" cy="515.8" r="3.0" fill="#8cd2b4"/><circle cx="219.4" cy="520.1" r="3.0" fill="#8cd2b4"/><circle cx="220.0" cy="526.1" r="3.0" fill="#8cd2b4"/><circle cx="221.4" cy="518.5" r="3.0" fill="#8cd2b4"/><circle cx="221.9" cy="517.8" r="3.0" fill="#8cd2b4"/><circle cx="223.7" cy="516.3" r="3.0" fill="#8cd2b4"/><circle cx="225.6" cy="516.1" r="3.0" fill="#8cd2b4"/><circle cx="226.2" cy="521.7" r="3.0" fill="#8cd2b4"/><circle cx="227.4" cy="522.9" r="3.0" fill="#8cd2b4"/><circle cx="228.5" cy="520.7" r="3.0" fill="#8cd2b4"/><circle cx="230.3" cy="521.9" r="3.0" fill="#8cd2b4"/><circle cx="231.4" cy="521.5" r="3.0" fill="#8cd2b4"/><circle cx="232.2" cy="521.8" r="3.0" fill="#8cd2b4"/><circle cx="234.0" cy="517.2" r="3.0" fill="#8cd2b4"/><circle cx="235.1" cy="520.5" r="3.0" fill="#8cd2b4"/><circle cx="236.5" cy="522.4" r="3.0" fill="#8cd2b4"/><circle cx="237.3" cy="520.1" r="3.0" fill="#8cd2b4"/><circle cx="239.2" cy="521.2" r="3.0" fill="#8cd2b4"/><circle cx="240.1" cy="520.4" r="3.0" fill="#8cd2b4"/><circle cx="241.1" cy="522.1" r="3.0" fill="#8cd2b4"/><circle cx="242.2" cy="525.8" r="3.0" fill="#8cd2b4"/><circle cx="243.6" cy="522.4" r="3.0" fill="#8cd2b4"/><circle cx="245.1" cy="523.3" r="3.0" fill="#8cd2b4"/><circle cx="246.0" cy="526.4" r="3.0" fill="#8cd2b4"/><circle cx="247.6" cy="526.1" r="3.0" fill="#8cd2b4"/><circle cx="248.7" cy="529.5" r="3.0" fill="#8cd2b4"/><circle cx="250.2" cy="518.9" r="3.0" fill="#8cd2b4"/><circle cx="251.3" cy="527.9" r="3.0" fill="#8cd2b4"/><circle cx="252.2" cy="524.4" r="3.0" fill="#8cd2b4"/><circle cx="252.9" cy="526.6" r="3.0" fill="#8cd2b4"/><circle cx="254.8" cy="529.0" r="3.0" fill="#8cd2b4"/><circle cx="256.2" cy="530.1" r="3.0" fill="#8cd2b4"/><circle cx="257.2" cy="530.4" r="3.0" fill="#8cd2b4"/><circle cx="258.6" cy="528.3" r="3.0" fill="#8cd2b4"/><circle cx="259.5" cy="532.9" r="3.0" fill="#8cd2b4"/><circle cx="260.7" cy="527.8" r="3.0" fill="#8cd2b4"/><circle cx="261.8" cy="528.6" r="3.0" fill="#8cd2b4"/><circle cx="263.7" cy="531.7" r="3.0" fill="#8cd2b4"/><circle cx="264.6" cy="528.2" r="3.0" fill="#8cd2b4"/><circle cx="265.6" cy="536.4" r="3.0" fill="#8cd2b4"/><circle cx="266.6" cy="533.5" r="3.0" fill="#8cd2b4"/><circle cx="268.2" cy="537.2" r="3.0" fill="#8cd2b4"/><circle cx="269.9" cy="531.2" r="3.0" fill="#8cd2b4"/><circle cx="270.8" cy="530.5" r="3.0" fill="#8cd2b4"/><circle cx="271.7" cy="532.5" r="3.0" fill="#8cd2b4"/><circle cx="273.6" cy="534.5" r="3.0" fill="#8cd2b4"/><circle cx="274.8" cy="531.0" r="3.0" fill="#8cd2b4"/><circle cx="275.9" cy="534.2" r="3.0" fill="#8cd2b4"/><circle cx="277.1" cy="533.4" r="3.0" fill="#8cd2b4"/><circle cx="278.4" cy="538.5" r="3.0" fill="#8cd2b4"/><circle cx="279.5" cy="532.3" r="3.0" fill="#8cd2b4"/><circle cx="280.8" cy="537.5" r="3.0" fill="#8cd2b4"/><circle cx="281.5" cy="532.8" r="3.0" fill="#8cd2b4"/><circle cx="283.5" cy="532.1" r="3.0" fill="#8cd2b4"/><circle cx="284.3" cy="533.1" r="3.0" fill="#8cd2b4"/><circle cx="286.1" cy="531.9" r="3.0" fill="#8cd2b4"/><circle cx="286.1" cy="536.0" r="3.0" fill="#8cd2b4"/><circle cx="288.1" cy="538.8" r="3.0" fill="#8cd2b4"/><circle cx="289.5" cy="536.5" r="3.0" fill="#8cd2b4"/><circle cx="290.3" cy="538.0" r="3.0" fill="#8cd2b4"/><circle cx="291.8" cy="541.2" r="3.0" fill="#8cd2b4"/><circle cx="293.1" cy="537.4" r="3.0" fill="#8cd2b4"/><circle cx="294.3" cy="537.4" r="3.0" fill="#8cd2b4"/><circle cx="295.1" cy="536.3" r="3.0" fill="#8cd2b4"/><circle cx="296.5" cy="532.6" r="3.0" fill="#8cd2b4"/><circle cx="298.1" cy="539.7" r="3.0" fill="#8cd2b4"/><circle cx="299.4" cy="532.9" r="3.0" fill="#8cd2b4"/><circle cx="300.3" cy="540.3" r="3.0" fill="#8cd2b4"/><circle cx="301.5" cy="538.9" r="3.0" fill="#8cd2b4"/><circle cx="302.8" cy="542.7" r="3.0" fill="#8cd2b4"/><circle cx="304.2" cy="539.7" r="3.0" fill="#8cd2b4"/><circle cx="304.8" cy="538.0" r="3.0" fill="#8cd2b4"/><circle cx="306.0" cy="541.9" r="3.0" fill="#8cd2b4"/><circle cx="307.7" cy="539.7" r="3.0" fill="#8cd2b4"/><circle cx="308.5" cy="540.8" r="3.0" fill="#8cd2b4"/><circle cx="309.9" cy="541.2" r="3.0" fill="#8cd2b4"/><circle cx="311.3" cy="540.4" r="3.0" fill="#8cd2b4"/><circle cx="312.7" cy="540.0" r="3.0" fill="#8cd2b4"/><circle cx="313.4" cy="537.8" r="3.0" fill="#8cd2b4"/><circle cx="315.2" cy="539.5" r="3.0" fill="#8cd2b4"/>
<circle cx="191.2" cy="483.9" r="3.5" fill="#8cd2b4"/><text x="201.8" y="489.4" font-family='"Liberation Serif", serif' font-style="italic" font-size="16.8" fill="#8cd2b4" stroke="#8cd2b4" stroke-width="0.3">T</text><text x="209.7" y="492.1" font-family='"Liberation Serif", serif' font-style="italic" font-size="13.4" fill="#8cd2b4" letter-spacing="2.35" style="font-variant-ligatures:none" stroke="#8cd2b4" stroke-width="0.3">fix</text><text x="235.8" y="489.4" font-family='"Liberation Serif", serif' font-size="19" fill="#8cd2b4" stroke="#8cd2b4" stroke-width="0.25" textLength="11.4" lengthAdjust="spacingAndGlyphs">=</text><text x="254.2" y="489.4" font-family='"Liberation Serif", serif' font-size="16.5" fill="#8cd2b4" stroke="#8cd2b4" stroke-width="0.25" textLength="27.6" lengthAdjust="spacing">150</text><text x="286.3" y="489.4" font-family='"Liberation Serif", serif' font-style="italic" font-size="17" fill="#8cd2b4" stroke="#8cd2b4" stroke-width="0.25" textLength="18.4" lengthAdjust="spacingAndGlyphs">μs</text>
<circle cx="191.2" cy="555.5" r="3.5" fill="#8782c3"/><text x="201.8" y="561" font-family='"Liberation Serif", serif' font-style="italic" font-size="16.8" fill="#8782c3" stroke="#8782c3" stroke-width="0.3">T</text><text x="209.7" y="563.7" font-family='"Liberation Serif", serif' font-style="italic" font-size="13.4" fill="#8782c3" letter-spacing="2.35" style="font-variant-ligatures:none" stroke="#8782c3" stroke-width="0.3">fix</text><text x="235.8" y="561" font-family='"Liberation Serif", serif' font-size="19" fill="#8782c3" stroke="#8782c3" stroke-width="0.25" textLength="11.4" lengthAdjust="spacingAndGlyphs">=</text><text x="254.2" y="561" font-family='"Liberation Serif", serif' font-size="16.5" fill="#8782c3" stroke="#8782c3" stroke-width="0.25" textLength="27.6" lengthAdjust="spacing">100</text><text x="286.3" y="561" font-family='"Liberation Serif", serif' font-style="italic" font-size="17" fill="#8782c3" stroke="#8782c3" stroke-width="0.25" textLength="18.4" lengthAdjust="spacingAndGlyphs">μs</text>
<circle cx="191.2" cy="590.2" r="3.5" fill="#0c1f5e"/><text x="201.8" y="595.7" font-family='"Liberation Serif", serif' font-style="italic" font-size="16.8" fill="#0c1f5e" stroke="#0c1f5e" stroke-width="0.45">T</text><text x="209.7" y="598.4" font-family='"Liberation Serif", serif' font-style="italic" font-size="13.4" fill="#0c1f5e" letter-spacing="2.35" style="font-variant-ligatures:none" stroke="#0c1f5e" stroke-width="0.45">fix</text><text x="235.8" y="595.7" font-family='"Liberation Serif", serif' font-size="19" fill="#0c1f5e" stroke="#0c1f5e" stroke-width="0.45" textLength="11.4" lengthAdjust="spacingAndGlyphs">=</text><text x="254.2" y="595.7" font-family='"Liberation Serif", serif' font-size="16.5" fill="#0c1f5e" stroke="#0c1f5e" stroke-width="0.45" textLength="17.4" lengthAdjust="spacing">50</text><text x="273.8" y="595.7" font-family='"Liberation Serif", serif' font-style="italic" font-size="17" fill="#0c1f5e" stroke="#0c1f5e" stroke-width="0.45" textLength="18.4" lengthAdjust="spacingAndGlyphs">μs</text>
<text x="352.5" y="363.5" font-family='"Liberation Sans", sans-serif' font-size="24" fill="#000" text-anchor="start" >(c)</text>
<rect x="381.3" y="374.6" width="44.2" height="41.8" fill="#13753d"/><text x="385.0" y="402.2" font-family='"Liberation Sans", sans-serif' font-size="21.5" fill="#fff" stroke="#fff" stroke-width="0.25" letter-spacing="1.15">Init.</text>
<rect x="426.9" y="374.7" width="14.9" height="41.7" fill="#263280"/><text x="434.4" y="390.0" font-family='"Liberation Serif", serif' font-style="italic" font-size="20.5" fill="#fff" stroke="#fff" stroke-width="0.3" text-anchor="middle">π</text><line x1="429.1" y1="398.3" x2="439.7" y2="398.3" stroke="#fff" stroke-width="1.4"/><text x="434.4" y="415.2" font-family='"Liberation Sans", sans-serif' font-size="17.5" fill="#fff" text-anchor="middle">2</text>
<line x1="470" y1="402.8" x2="493.4" y2="402.8" stroke="#4472c4" stroke-width="2.6"/>
<polygon points="471.5,396.6 459,402.8 471.5,409" fill="#4472c4"/>
<text x="474.5" y="397.6" font-family='"Liberation Serif", serif' font-style="italic" font-size="18.5" fill="#000" stroke="#000" stroke-width="0.35">t</text>
<rect x="506.1" y="374.4" width="17.5" height="42.5" fill="#263280"/><text x="514.9" y="402.8" font-family='"Liberation Serif", serif' font-style="italic" font-size="20.5" fill="#fff" stroke="#fff" stroke-width="0.3" text-anchor="middle">π</text>
<rect x="506.1" y="421.6" width="17.5" height="29.9" fill="#8eaadc"/><text x="514.9" y="443.8" font-family='"Liberation Serif", serif' font-style="italic" font-size="20.5" fill="#fff" stroke="#fff" stroke-width="0.3" text-anchor="middle">π</text>
<line x1="543.5" y1="403" x2="567" y2="403" stroke="#4472c4" stroke-width="2.6"/>
<polygon points="566.3,396.8 578.8,403 566.3,409.2" fill="#4472c4"/>
<text x="556" y="396" font-family='"Liberation Serif", serif' font-style="italic" font-size="18.5" fill="#000" stroke="#000" stroke-width="0.35">t</text>
<rect x="590.1" y="374.4" width="15.3" height="42.5" fill="#263280"/><text x="597.8" y="389.7" font-family='"Liberation Serif", serif' font-style="italic" font-size="20.5" fill="#fff" stroke="#fff" stroke-width="0.3" text-anchor="middle">π</text><line x1="592.5" y1="398.0" x2="603.0" y2="398.0" stroke="#fff" stroke-width="1.4"/><text x="597.8" y="414.9" font-family='"Liberation Sans", sans-serif' font-size="17.5" fill="#fff" text-anchor="middle">2</text>
<rect x="606.4" y="374.2" width="63.3" height="42.7" fill="#13753d"/><text x="615.9" y="404.7" font-family='"Liberation Sans", sans-serif' font-size="18.3" fill="#fff" stroke="#fff" stroke-width="0.25" letter-spacing="0">Read.</text>
<line x1="375.3" y1="417.5" x2="677.6" y2="417.5" stroke="#3a3a3a" stroke-width="2.8"/><polyline points="663.1,409.5 677.1,417.5 663.1,425.5" fill="none" stroke="#3a3a3a" stroke-width="3.4" stroke-linejoin="round" stroke-linecap="round"/>
<line x1="375.3" y1="453.2" x2="677.6" y2="453.2" stroke="#3a3a3a" stroke-width="2.8"/><polyline points="663.1,445.2 677.1,453.2 663.1,461.2" fill="none" stroke="#3a3a3a" stroke-width="3.4" stroke-linejoin="round" stroke-linecap="round"/>
<rect x="392" y="468.8" width="274.5" height="183.6" fill="none" stroke="#262626" stroke-width="1.5"/>
<line x1="392" y1="560.2" x2="395.5" y2="560.2" stroke="#262626" stroke-width="1.3"/>
<line x1="666.5" y1="560.2" x2="663.0" y2="560.2" stroke="#262626" stroke-width="1.3"/>
<line x1="483.5" y1="652.4" x2="483.5" y2="648.9" stroke="#262626" stroke-width="1.3"/>
<line x1="483.5" y1="468.8" x2="483.5" y2="472.3" stroke="#262626" stroke-width="1.3"/>
<line x1="575.0" y1="652.4" x2="575.0" y2="648.9" stroke="#262626" stroke-width="1.3"/>
<line x1="575.0" y1="468.8" x2="575.0" y2="472.3" stroke="#262626" stroke-width="1.3"/>
<text x="392.0" y="680.5" font-family='"Liberation Sans", sans-serif' font-size="24" fill="#222" text-anchor="middle" >0</text>
<text x="483.5" y="680.5" font-family='"Liberation Sans", sans-serif' font-size="24" fill="#222" text-anchor="middle" >200</text>
<text x="575.0" y="680.5" font-family='"Liberation Sans", sans-serif' font-size="24" fill="#222" text-anchor="middle" >400</text>
<text x="666.5" y="680.5" font-family='"Liberation Sans", sans-serif' font-size="24" fill="#222" text-anchor="middle" >600</text>
<g transform="translate(375,570) rotate(-90)"><text x="0" y="0" font-family='"Liberation Sans", sans-serif' font-size="24" fill="#222" text-anchor="middle" >Contrast(a.u.)</text></g>
<text x="492" y="699.7" font-family='"Liberation Sans", sans-serif' font-size="24" fill="#222">2<tspan font-style="italic">t</tspan>(<tspan font-style="italic">μ</tspan>s)</text>
<path d="M398.3,499.0 L398.9,499.5 L399.5,499.3 L400.0,498.3 L400.6,498.2 L401.0,498.3 L401.1,499.5 L401.2,499.8 L401.3,500.8 L401.4,500.1 L401.5,502.4 L401.6,502.1 L401.7,503.1 L401.8,503.3 L401.9,503.8 L402.0,504.8 L402.1,505.5 L402.2,505.6 L402.3,506.2 L402.4,507.2 L402.5,507.1 L402.6,507.3 L402.7,508.9 L402.8,508.9 L402.9,508.9 L403.0,510.0 L403.1,510.8 L403.3,511.0 L403.4,511.5 L403.5,512.8 L403.7,513.8 L403.8,513.9 L403.9,514.2 L404.0,515.3 L404.2,516.1 L404.3,516.2 L404.4,517.2 L404.5,518.0 L404.7,518.0 L404.8,518.3 L404.9,519.4 L405.0,520.0 L405.2,521.0 L405.3,520.4 L405.4,521.3 L405.6,521.8 L405.7,521.9 L405.8,523.4 L405.9,524.2 L406.1,524.2 L406.3,525.8 L406.4,526.1 L406.6,526.6 L406.8,527.1 L406.9,527.9 L407.1,527.3 L407.3,528.9 L407.4,529.5 L407.6,528.9 L407.8,530.5 L407.9,530.8 L408.1,531.9 L408.3,531.8 L408.4,532.6 L408.6,533.4 L408.8,533.3 L408.9,534.7 L409.1,534.9 L409.3,535.8 L409.4,535.8 L409.6,537.2 L409.8,537.6 L410.0,537.7 L410.2,538.7 L410.5,539.5 L410.8,540.3 L411.0,539.2 L411.3,541.0 L411.6,541.3 L411.8,541.5 L412.1,541.6 L412.4,543.3 L412.6,542.6 L412.9,544.0 L413.2,544.9 L413.4,544.0 L413.7,545.2 L414.0,545.2 L414.3,546.5 L414.6,547.7 L414.9,548.5 L415.2,547.1 L415.5,548.2 L415.8,549.3 L416.1,550.3 L416.5,550.2 L416.8,550.2 L417.1,551.2 L417.4,551.6 L417.7,552.0 L418.0,552.2 L418.3,553.3 L418.6,553.8 L418.9,554.1 L419.2,554.5 L419.5,554.5 L419.9,555.4 L420.2,556.8 L420.5,556.6 L420.8,556.5 L421.1,558.4 L421.4,558.5 L421.7,559.8 L422.0,559.3 L422.3,559.6 L422.7,559.6 L423.0,561.5 L423.3,562.6 L423.6,561.4 L423.9,562.0 L424.2,563.2 L424.5,563.0 L424.8,563.8 L425.1,564.3 L425.5,565.0 L425.8,566.0 L426.1,566.0 L426.5,566.9 L426.8,566.7 L427.2,567.5 L427.6,566.8 L427.9,567.6 L428.3,569.2 L428.6,569.0 L429.0,570.1 L429.4,570.5 L429.7,571.4 L430.1,571.6 L430.4,572.2 L430.8,572.1 L431.2,572.3 L431.5,572.8 L431.9,573.4 L432.2,573.6 L432.5,574.4 L432.8,575.2 L433.1,575.9 L433.4,576.1 L433.7,575.8 L434.0,577.2 L434.3,577.9 L434.6,578.8 L435.0,579.1 L435.3,579.0 L435.6,579.5 L435.9,581.4 L436.2,581.3 L436.5,582.3 L436.8,583.0 L437.1,582.0 L437.4,583.1 L437.7,583.7 L438.1,584.2 L438.5,584.7 L438.8,585.0 L439.2,585.5 L439.5,585.1 L439.9,586.3 L440.3,586.5 L440.6,587.4 L441.0,587.6 L441.3,588.6 L441.7,589.2 L442.1,589.4 L442.4,589.9 L442.8,590.2 L443.1,590.5 L443.5,591.1 L443.9,591.4 L444.3,592.3 L444.7,592.5 L445.1,593.3 L445.4,592.8 L445.8,594.3 L446.2,594.0 L446.6,594.5 L447.0,595.2 L447.4,595.4 L447.8,596.3 L448.2,596.4 L448.6,596.6 L449.0,597.1 L449.4,598.7 L449.8,598.4 L450.3,598.2 L450.8,599.1 L451.3,598.6 L451.8,600.6 L452.3,599.2 L452.8,600.6 L453.4,600.9 L453.9,600.2 L454.4,601.4 L454.9,602.1 L455.4,602.2 L455.9,602.4 L456.4,603.0 L456.9,603.0 L457.4,603.4 L458.0,603.4 L458.5,604.1 L459.0,603.5 L459.6,604.7 L460.1,604.3 L460.7,604.3 L461.2,605.3 L461.7,606.2 L462.3,606.1 L462.8,605.6 L463.4,606.5 L463.9,606.2 L464.4,606.6 L465.0,607.0 L465.5,606.0 L466.0,607.6 L466.5,607.4 L467.0,607.9 L467.5,607.8 L468.0,608.1 L468.5,608.7 L469.0,610.0 L469.5,610.7 L470.0,610.2 L470.5,611.1 L471.0,610.7 L471.5,610.3 L471.9,611.7 L472.4,612.3 L472.8,612.2 L473.2,613.0 L473.7,613.6 L474.1,613.3 L474.5,613.4 L475.0,614.4 L475.4,614.9 L475.8,615.2 L476.3,616.3 L476.7,617.1 L477.1,616.4 L477.6,617.4 L478.0,617.9 L478.4,618.2 L478.9,618.8 L479.3,618.5 L479.7,619.5 L480.2,620.5 L480.7,620.2 L481.2,619.8 L481.7,620.7 L482.3,621.4 L482.8,621.2 L483.3,621.1 L483.8,622.4 L484.3,621.4 L484.8,622.5 L485.4,622.6 L485.9,622.3 L486.4,623.8 L486.9,623.7 L487.4,623.2 L487.9,624.4 L488.5,624.2 L489.0,623.8 L489.5,624.7 L490.0,625.5 L490.5,626.0 L491.0,626.1 L491.6,626.3 L492.1,626.8 L492.6,626.8 L493.1,627.8 L493.6,627.6 L494.1,628.0 L494.7,628.4 L495.2,627.8 L495.7,628.3 L496.3,629.7 L496.8,629.3 L497.4,629.3 L497.9,629.9 L498.4,629.8 L499.0,630.4 L499.5,630.2 L500.0,631.0 L500.6,630.3 L501.1,632.0 L501.6,631.4 L502.2,631.1 L502.7,632.1 L503.3,632.3 L503.8,632.8 L504.3,632.4 L504.9,633.5 L505.4,635.3 L505.9,633.2 L506.5,634.2 L507.0,634.2 L507.5,634.7 L508.1,634.0 L508.7,634.5 L509.2,635.5 L509.8,635.5 L510.3,636.6 L510.9,635.6 L511.4,636.3 L512.0,637.9 L512.6,636.2 L513.1,636.4 L513.7,637.1 L514.2,637.3 L514.8,637.9 L515.4,637.8 L515.9,637.6 L516.5,638.3 L517.0,639.7 L517.6,639.3 L518.2,637.4 L518.7,639.0 L519.3,638.8 L519.8,639.8 L520.4,639.6 L521.0,640.9 L521.5,640.6 L522.1,640.8 L522.7,640.6 L523.3,640.6 L523.8,640.9 L524.4,641.6 L525.0,641.3 L525.6,641.1 L526.2,642.0 L526.7,641.6 L527.3,641.6 L527.9,641.4 L528.5,641.7 L529.1,641.8 L529.7,640.9 L530.2,642.9 L530.8,642.9 L531.4,642.6 L532.0,643.4 L532.6,643.3 L533.1,643.4 L533.7,642.1 L534.3,643.4 L534.9,643.9 L535.5,644.6 L536.1,644.8 L536.7,644.7 L537.2,643.6 L537.8,643.2 L538.4,644.7 L539.0,644.5 L539.6,645.1 L540.2,644.7 L540.8,645.0 L541.4,644.2 L542.0,645.3 L542.5,645.0 L543.1,645.5 L543.7,645.7 L544.3,645.5 L544.9,645.9 L545.5,645.8 L546.1,646.3 L546.7,646.3 L547.3,645.9 L547.8,646.0 L548.4,647.3 L549.0,646.5 L549.6,647.1 L550.2,646.9 L550.8,646.5 L551.4,646.5 L552.0,647.0 L552.6,647.2 L553.2,647.4 L553.8,646.6 L554.4,647.0 L555.0,647.3 L555.6,648.3 L556.2,646.4 L556.8,647.8 L557.4,647.4 L558.0,648.0 L558.6,647.6 L559.1,648.1 L559.7,648.8 L560.3,648.3 L560.9,648.4 L561.5,648.5 L562.1,648.0 L562.7,648.7 L563.3,648.4 L563.9,648.2 L564.5,648.6 L565.1,648.6 L565.7,649.1 L566.3,648.8 L566.9,648.6 L567.5,649.7 L568.1,649.5 L568.7,649.7 L569.3,649.5 L569.9,649.2 L570.5,649.1 L571.1,649.2 L571.7,649.9 L572.3,649.5 L572.9,648.8 L573.5,649.6 L574.1,649.0 L574.7,649.8 L575.3,649.2 L575.9,649.2 L576.5,650.0 L577.1,650.0 L577.7,649.2 L578.3,650.4 L578.9,651.2 L579.5,649.4 L580.1,651.0 L580.7,649.8 L581.3,649.9 L581.9,650.1 L582.5,649.5 L583.1,650.9 L583.7,650.6 L584.3,650.0 L584.9,650.2 L585.5,649.6 L586.1,650.2 L586.7,650.9 L587.3,649.6 L587.9,650.3 L588.5,650.6 L589.1,651.1 L589.7,651.3 L590.3,650.4 L590.9,650.3 L591.5,650.9 L592.1,650.5 L592.7,650.6 L593.3,651.3 L593.9,651.6 L594.5,650.9 L595.1,650.7 L595.7,651.2 L596.3,650.0 L596.9,650.9 L597.5,650.4 L598.1,652.2 L598.7,651.4 L599.3,651.1 L599.9,651.0 L600.5,649.8 L601.1,651.5 L601.7,652.0 L602.3,650.8 L602.9,651.6 L603.5,651.6 L604.1,650.5 L604.7,651.8 L605.3,652.0 L605.9,651.4 L606.5,651.3 L607.1,651.7 L607.7,650.6 L608.3,651.4 L608.9,651.9 L609.5,650.7 L610.1,651.9 L610.7,651.2 L611.3,650.3 L611.9,651.3 L612.5,650.9 L613.1,651.5 L613.7,650.8 L614.3,651.9 L614.9,651.0 L615.5,651.6 L616.1,651.1 L616.7,651.3 L617.3,652.0 L617.9,651.5 L618.5,651.3 L619.1,650.8 L619.7,652.0 L620.3,651.8 L620.9,651.3 L621.5,651.6 L622.1,651.0 L622.7,651.0 L623.3,651.1 L623.9,651.7 L624.5,651.7 L625.1,651.1 L625.7,651.9 L626.3,651.9 L626.9,651.6 L627.5,652.1 L628.1,651.4 L628.7,651.5 L629.3,651.8 L629.9,651.6 L630.5,652.0 L631.1,651.0 L631.7,652.3 L632.3,651.2 L632.9,651.5 L633.5,650.9 L634.1,651.9 L634.7,652.2 L635.3,652.1 L635.9,652.0 L636.5,650.8 L637.1,651.2 L637.7,651.4 L638.3,651.1 L638.9,652.1 L639.5,651.7 L640.2,651.6 L640.8,651.8 L641.4,651.1 L642.0,651.1 L642.6,651.1 L643.2,651.8 L643.8,651.7 L644.4,651.9 L645.0,652.1 L645.6,650.9 L646.2,651.3 L646.8,651.6 L647.4,650.9 L648.0,651.3 L648.6,652.1 L649.2,652.1 L649.8,652.1 L650.4,651.6 L651.0,651.4 L651.6,652.1 L652.2,651.4 L652.8,651.7 L653.4,652.2 L654.0,651.4 L654.6,651.2 L655.2,651.5 L655.8,651.8 L656.4,651.8 L657.0,651.6 L657.6,651.8 L658.2,650.7 L658.8,651.1 L659.4,651.6 L660.0,651.1 L660.6,650.8 L661.2,650.9 L661.8,651.1 L662.4,651.4 L663.0,651.0 L663.6,651.6 L664.2,652.4 L664.8,651.4 L665.4,652.1 L666.0,651.6" fill="none" stroke="#000" stroke-width="4.5" stroke-linejoin="round"/>
<path d="M398.0,500.0 L398.2,501.1 L398.4,501.5 L398.6,502.1 L398.8,503.1 L399.0,502.2 L399.2,503.1 L399.5,503.3 L399.7,504.5 L399.9,505.6 L400.1,505.6 L400.3,506.5 L400.5,505.8 L400.7,507.4 L400.9,507.5 L401.0,509.4 L401.1,509.5 L401.2,510.2 L401.3,510.2 L401.5,511.2 L401.6,511.8 L401.7,511.9 L401.8,512.4 L401.9,513.2 L402.0,513.5 L402.1,514.1 L402.2,514.9 L402.4,515.2 L402.5,516.6 L402.6,516.0 L402.7,517.8 L402.8,517.7 L402.9,518.3 L403.0,518.5 L403.1,519.7 L403.2,520.2 L403.4,521.0 L403.5,521.3 L403.6,522.2 L403.7,523.6 L403.8,523.5 L403.9,523.6 L404.0,524.9 L404.2,525.0 L404.3,525.9 L404.4,526.5 L404.6,526.6 L404.7,526.4 L404.8,527.8 L404.9,528.9 L405.1,529.0 L405.2,530.0 L405.3,530.8 L405.4,530.7 L405.6,532.1 L405.7,532.9 L405.8,533.3 L406.0,533.9 L406.1,534.4 L406.2,535.6 L406.3,535.2 L406.5,535.7 L406.6,536.5 L406.7,536.4 L406.8,536.6 L407.0,537.6 L407.1,538.8 L407.3,539.4 L407.4,539.0 L407.6,539.4 L407.7,540.8 L407.9,541.4 L408.0,542.1 L408.2,543.0 L408.3,543.9 L408.4,544.0 L408.6,544.7 L408.7,544.5 L408.9,545.0 L409.0,546.3 L409.2,547.1 L409.3,547.7 L409.5,548.2 L409.6,548.9 L409.8,549.5 L409.9,548.8 L410.1,549.9 L410.2,551.1 L410.4,551.7 L410.6,551.2 L410.7,553.2 L410.9,552.9 L411.1,553.6 L411.2,554.5 L411.4,555.3 L411.5,554.8 L411.7,556.5 L411.9,556.7 L412.0,556.8 L412.2,557.7 L412.4,557.3 L412.5,558.6 L412.7,559.6 L412.8,559.8 L413.0,560.5 L413.2,561.2 L413.3,561.9 L413.5,562.9 L413.7,563.0 L413.8,563.5 L414.0,564.4 L414.2,565.8 L414.4,565.1 L414.6,566.1 L414.8,565.7 L415.0,567.7 L415.2,567.9 L415.4,568.8 L415.6,568.7 L415.7,568.8 L415.9,570.3 L416.1,570.8 L416.3,570.6 L416.5,570.8 L416.7,572.4 L416.9,572.6 L417.1,574.6 L417.3,573.6 L417.5,574.2 L417.7,574.9 L417.9,574.7 L418.1,575.7 L418.3,577.5 L418.6,577.2 L418.8,577.5 L419.0,577.7 L419.3,579.2 L419.5,579.8 L419.7,580.1 L420.0,580.4 L420.2,581.3 L420.4,581.9 L420.6,581.9 L420.9,583.1 L421.1,582.3 L421.3,583.3 L421.6,584.3 L421.8,585.0 L422.0,585.0 L422.3,586.3 L422.5,587.2 L422.7,587.5 L423.0,587.9 L423.2,588.7 L423.5,589.1 L423.7,588.9 L424.0,589.9 L424.2,591.2 L424.5,590.5 L424.7,591.6 L425.0,592.0 L425.2,592.3 L425.5,592.8 L425.7,593.9 L426.0,594.5 L426.2,595.1 L426.5,594.7 L426.7,595.9 L427.0,596.7 L427.2,597.6 L427.5,598.0 L427.7,598.6 L428.1,599.2 L428.4,599.6 L428.7,599.3 L429.1,600.2 L429.4,600.3 L429.7,600.0 L430.1,600.9 L430.4,603.3 L430.7,602.2 L431.1,602.1 L431.4,603.4 L431.7,605.0 L432.1,604.7 L432.4,605.4 L432.7,605.6 L433.1,606.2 L433.4,607.4 L433.7,607.6 L434.1,607.6 L434.6,608.5 L435.0,609.0 L435.4,608.8 L435.8,609.5 L436.3,609.9 L436.7,609.9 L437.1,611.2 L437.6,611.0 L438.0,611.2 L438.4,611.1 L438.8,611.7 L439.3,613.5 L439.7,612.6 L440.2,613.7 L440.7,613.5 L441.3,614.3 L441.8,614.6 L442.4,614.2 L442.9,614.7 L443.4,615.1 L444.0,615.4 L444.5,615.6 L445.0,615.8 L445.6,616.5 L446.1,617.0 L446.7,616.8 L447.3,616.4 L447.9,617.2 L448.4,617.2 L449.0,617.6 L449.6,618.4 L450.1,617.6 L450.7,617.9 L451.3,617.7 L451.8,618.2 L452.4,618.3 L452.9,619.7 L453.5,619.3 L454.0,619.1 L454.5,620.6 L455.1,619.3 L455.6,620.6 L456.2,621.0 L456.7,621.0 L457.2,620.9 L457.8,621.2 L458.3,621.3 L458.9,622.2 L459.4,620.9 L460.0,622.0 L460.5,622.6 L461.1,622.4 L461.6,622.0 L462.2,623.1 L462.8,623.0 L463.3,624.0 L463.9,624.5 L464.4,624.1 L465.0,623.3 L465.5,624.4 L466.1,624.3 L466.7,625.3 L467.2,626.0 L467.8,625.6 L468.3,626.7 L468.9,626.6 L469.5,626.4 L470.0,626.0 L470.5,626.8 L471.0,626.4 L471.5,627.9 L472.0,627.8 L472.5,628.7 L473.0,628.5 L473.5,627.7 L474.1,629.4 L474.6,629.8 L475.1,630.5 L475.6,629.5 L476.1,629.9 L476.6,630.7 L477.1,630.4 L477.6,630.6 L478.1,631.0 L478.6,633.2 L479.1,631.9 L479.7,632.0 L480.2,632.6 L480.7,633.1 L481.3,634.0 L481.8,634.0 L482.4,634.2 L482.9,634.1 L483.5,634.4 L484.0,634.2 L484.6,634.0 L485.1,636.0 L485.7,635.0 L486.2,636.0 L486.8,635.6 L487.3,635.9 L487.9,636.1 L488.4,635.8 L489.0,636.7 L489.6,637.1 L490.1,637.6 L490.7,637.7 L491.2,638.2 L491.8,638.1 L492.3,638.1 L492.9,637.4 L493.4,638.4 L494.0,639.6 L494.5,639.1 L495.1,639.5 L495.7,639.2 L496.3,639.1 L496.9,640.6 L497.5,639.9 L498.1,640.6 L498.6,640.3 L499.2,640.0 L499.8,639.2 L500.4,640.5 L501.0,639.8 L501.6,639.6 L502.1,641.5 L502.7,641.4 L503.3,641.5 L503.9,641.3 L504.5,641.4 L505.1,641.8 L505.7,641.8 L506.2,641.9 L506.8,642.4 L507.4,640.9 L508.0,642.7 L508.6,642.0 L509.2,642.8 L509.8,642.9 L510.4,642.0 L511.0,642.8 L511.6,642.8 L512.2,642.1 L512.8,642.2 L513.4,642.6 L514.0,641.5 L514.6,642.4 L515.2,642.7 L515.8,642.5 L516.4,641.9 L517.0,642.5 L517.6,643.5 L518.2,643.5 L518.8,642.8 L519.4,642.5 L520.0,642.9 L520.6,643.0 L521.2,642.6 L521.8,642.8 L522.4,643.4 L523.0,643.5 L523.6,641.9 L524.2,643.6 L524.8,643.2 L525.4,643.7 L526.0,643.2 L526.6,643.4 L527.2,644.1 L527.8,641.8 L528.4,644.1 L529.0,643.4 L529.6,642.4 L530.2,642.0 L530.8,643.6 L531.4,642.9 L532.1,644.0 L532.7,643.6 L533.3,643.4 L533.9,644.0 L534.5,643.7 L535.1,644.0 L535.7,644.0 L536.3,643.8 L536.9,644.1 L537.5,644.1 L538.1,643.1 L538.7,643.6 L539.3,643.8 L539.9,643.7 L540.5,643.1 L541.1,643.6 L541.7,644.1 L542.3,644.1 L542.9,644.8 L543.5,643.8 L544.1,643.9 L544.7,643.8 L545.3,644.0 L545.9,643.9 L546.5,643.3 L547.1,644.4 L547.7,644.8 L548.3,644.9 L548.9,643.8 L549.5,644.3 L550.1,645.4 L550.7,644.4 L551.3,644.7 L551.9,644.5 L552.5,645.1 L553.1,645.1 L553.7,645.8 L554.3,644.9 L554.9,644.9 L555.5,644.2 L556.1,644.6 L556.7,644.5 L557.3,644.7 L557.9,644.2 L558.5,645.5 L559.1,644.4 L559.7,645.1 L560.3,644.4 L560.9,645.2 L561.5,645.9 L562.1,644.7 L562.7,645.4 L563.3,645.2 L563.9,645.4 L564.5,645.5 L565.1,645.1 L565.7,645.4 L566.3,645.2 L566.9,645.2 L567.5,645.0 L568.1,646.2 L568.7,645.4 L569.3,646.1 L569.9,646.2 L570.5,645.4 L571.1,646.5 L571.7,645.6 L572.3,646.4 L572.9,646.9 L573.5,645.9 L574.1,645.8 L574.7,645.9 L575.3,647.6 L575.9,646.3 L576.5,645.9 L577.1,647.0 L577.7,646.6 L578.3,646.7 L578.9,646.2 L579.5,645.7 L580.1,646.5 L580.7,646.4 L581.3,646.1 L581.9,646.4 L582.5,646.5 L583.1,647.5 L583.7,647.5 L584.3,647.4 L584.9,646.9 L585.5,646.6 L586.1,647.5 L586.7,647.6 L587.3,647.9 L587.9,647.4 L588.5,647.4 L589.1,647.7 L589.7,647.1 L590.3,647.2 L590.9,648.0 L591.5,647.1 L592.1,647.8 L592.7,648.3 L593.3,648.0 L593.9,648.2 L594.5,647.5 L595.1,648.0 L595.7,648.0 L596.3,648.5 L596.9,648.5 L597.5,648.4 L598.1,649.4 L598.7,648.8 L599.3,648.4 L599.9,648.3 L600.5,648.6 L601.1,648.4 L601.7,649.6 L602.3,649.1 L602.9,648.8 L603.5,648.6 L604.1,648.5 L604.7,649.0 L605.3,649.8 L605.9,649.6 L606.5,649.2 L607.1,649.3 L607.7,648.4 L608.3,649.7 L608.9,649.3 L609.5,650.1 L610.1,649.4 L610.7,649.3 L611.3,649.6 L611.9,649.3 L612.5,650.3 L613.1,649.8 L613.7,649.9 L614.3,649.9 L614.9,649.6 L615.5,650.1 L616.1,649.9 L616.7,650.8 L617.3,650.0 L617.9,650.2 L618.5,649.8 L619.1,649.9 L619.7,649.9 L620.3,650.8 L620.9,650.2 L621.5,650.7 L622.1,650.1 L622.7,650.1 L623.3,649.3 L623.9,650.8 L624.5,651.4 L625.1,650.3 L625.7,651.2 L626.3,650.9 L626.9,650.2 L627.5,650.9 L628.1,650.1 L628.7,650.5 L629.3,651.3 L629.9,650.8 L630.5,650.1 L631.1,651.5 L631.7,650.2 L632.3,650.8 L632.9,650.7 L633.5,650.8 L634.1,650.5 L634.7,650.1 L635.3,651.9 L635.9,650.5 L636.5,650.5 L637.1,649.8 L637.7,651.1 L638.3,651.7 L638.9,651.8 L639.5,652.5 L640.1,651.9 L640.7,651.3 L641.3,651.2 L641.9,651.9 L642.5,651.2 L643.1,651.3 L643.7,650.8 L644.3,651.3 L644.9,652.3 L645.5,651.3 L646.1,651.5 L646.7,650.1 L647.3,652.0 L647.9,651.5 L648.5,652.0 L649.1,651.4 L649.7,650.9 L650.3,650.6 L651.0,651.5 L651.6,651.2 L652.2,650.8 L652.8,651.2 L653.4,650.9 L654.0,651.6 L654.6,651.0 L655.2,650.6 L655.8,651.1 L656.4,650.9 L657.0,651.9 L657.6,650.9 L658.2,650.5 L658.8,651.1 L659.4,651.0 L660.0,651.2 L660.6,651.2 L661.2,650.5 L661.8,651.0 L662.4,651.0 L663.0,650.4 L663.6,650.7 L664.2,651.1 L664.8,650.2 L665.4,650.4 L666.0,650.7" fill="none" stroke="#c8203a" stroke-width="4.4" stroke-linejoin="round"/>
<line x1="428.9" y1="501.5" x2="455.6" y2="501.5" stroke="#000" stroke-width="4.7"/>
<line x1="428.9" y1="534.4" x2="455.6" y2="534.4" stroke="#c8203a" stroke-width="4.5"/>
<text x="469.3" y="509.7" font-family='"Liberation Sans", sans-serif' font-size="20.7" fill="#000">Without <tspan font-family='"Liberation Serif", serif' font-style="italic" font-size="24">π</tspan> for P1(HE)</text>
<text x="469.3" y="542.8" font-family='"Liberation Sans", sans-serif' font-size="20.5" fill="#c8203a">With <tspan font-family='"Liberation Serif", serif' font-style="italic" font-size="24">π</tspan> for P1</text>
</svg>
</body></html>
